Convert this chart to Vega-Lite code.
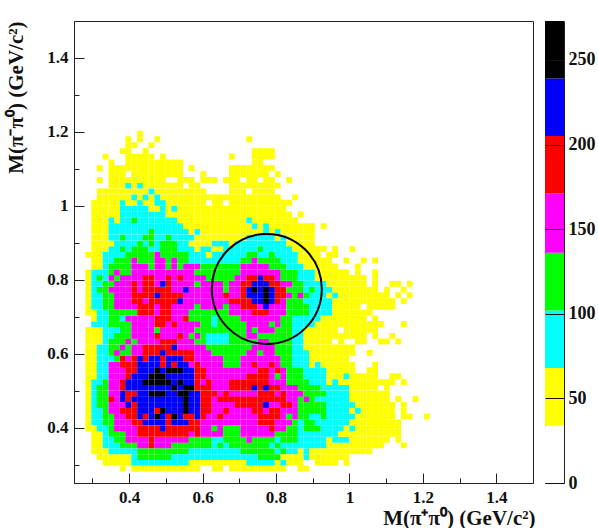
{"$schema":"https://vega.github.io/schema/vega-lite/v6.json","padding":{"left":4,"top":20,"right":0,"bottom":0},"background":"white","config":{"view":{"stroke":null},"axis":{"labelFont":"Liberation Serif","titleFont":"Liberation Serif","labelFontWeight":"bold","titleFontWeight":"bold","labelFontSize":17,"titleFontSize":21,"labelColor":"#111","titleColor":"#111","grid":false}},"spacing":8,"hconcat":[{"width":459,"height":462,"view":{"stroke":"#222","strokeWidth":1},"layer":[{"data":{"values":[
{"x":0.383,"y":0.289,"n":50},{"x":0.414,"y":0.289,"n":50},{"x":0.43,"y":0.289,"n":50},{"x":0.445,"y":0.289,"n":50},{"x":0.461,"y":0.289,"n":50},{"x":0.477,"y":0.289,"n":50},{"x":0.492,"y":0.289,"n":50},{"x":0.508,"y":0.289,"n":50},{"x":0.523,"y":0.289,"n":50},{"x":0.539,"y":0.289,"n":50},{"x":0.555,"y":0.289,"n":50},{"x":0.57,"y":0.289,"n":50},{"x":0.586,"y":0.289,"n":50},{"x":0.633,"y":0.289,"n":50},{"x":0.648,"y":0.289,"n":50},{"x":0.68,"y":0.289,"n":50},{"x":0.695,"y":0.289,"n":50},{"x":0.711,"y":0.289,"n":50},{"x":0.727,"y":0.289,"n":50},{"x":0.742,"y":0.289,"n":50},{"x":0.758,"y":0.289,"n":50},{"x":0.773,"y":0.289,"n":50},{"x":0.789,"y":0.289,"n":50},{"x":0.805,"y":0.289,"n":50},{"x":0.82,"y":0.289,"n":50},{"x":0.867,"y":0.289,"n":50},{"x":0.883,"y":0.289,"n":50},
{"x":0.336,"y":0.305,"n":50},{"x":0.352,"y":0.305,"n":50},{"x":0.367,"y":0.305,"n":50},{"x":0.383,"y":0.305,"n":50},{"x":0.398,"y":0.305,"n":50},{"x":0.414,"y":0.305,"n":85},{"x":0.43,"y":0.305,"n":85},{"x":0.445,"y":0.305,"n":85},{"x":0.461,"y":0.305,"n":85},{"x":0.477,"y":0.305,"n":85},{"x":0.492,"y":0.305,"n":85},{"x":0.508,"y":0.305,"n":85},{"x":0.523,"y":0.305,"n":85},{"x":0.539,"y":0.305,"n":85},{"x":0.555,"y":0.305,"n":85},{"x":0.57,"y":0.305,"n":50},{"x":0.586,"y":0.305,"n":50},{"x":0.602,"y":0.305,"n":50},{"x":0.617,"y":0.305,"n":50},{"x":0.633,"y":0.305,"n":50},{"x":0.648,"y":0.305,"n":50},{"x":0.664,"y":0.305,"n":50},{"x":0.68,"y":0.305,"n":50},{"x":0.695,"y":0.305,"n":50},{"x":0.711,"y":0.305,"n":50},{"x":0.727,"y":0.305,"n":85},{"x":0.742,"y":0.305,"n":85},{"x":0.758,"y":0.305,"n":85},{"x":0.773,"y":0.305,"n":85},{"x":0.789,"y":0.305,"n":85},{"x":0.805,"y":0.305,"n":50},{"x":0.82,"y":0.305,"n":85},{"x":0.836,"y":0.305,"n":50},{"x":0.852,"y":0.305,"n":50},{"x":0.867,"y":0.305,"n":50},{"x":0.914,"y":0.305,"n":50},{"x":0.93,"y":0.305,"n":50},{"x":0.945,"y":0.305,"n":50},{"x":0.961,"y":0.305,"n":50},{"x":0.992,"y":0.305,"n":50},
{"x":0.32,"y":0.32,"n":50},{"x":0.336,"y":0.32,"n":50},{"x":0.352,"y":0.32,"n":50},{"x":0.367,"y":0.32,"n":50},{"x":0.383,"y":0.32,"n":50},{"x":0.398,"y":0.32,"n":50},{"x":0.414,"y":0.32,"n":85},{"x":0.43,"y":0.32,"n":120},{"x":0.445,"y":0.32,"n":120},{"x":0.461,"y":0.32,"n":120},{"x":0.477,"y":0.32,"n":120},{"x":0.492,"y":0.32,"n":120},{"x":0.508,"y":0.32,"n":120},{"x":0.523,"y":0.32,"n":85},{"x":0.539,"y":0.32,"n":85},{"x":0.555,"y":0.32,"n":85},{"x":0.57,"y":0.32,"n":85},{"x":0.586,"y":0.32,"n":85},{"x":0.602,"y":0.32,"n":85},{"x":0.617,"y":0.32,"n":85},{"x":0.633,"y":0.32,"n":85},{"x":0.648,"y":0.32,"n":85},{"x":0.664,"y":0.32,"n":85},{"x":0.68,"y":0.32,"n":85},{"x":0.695,"y":0.32,"n":85},{"x":0.711,"y":0.32,"n":85},{"x":0.727,"y":0.32,"n":85},{"x":0.742,"y":0.32,"n":85},{"x":0.758,"y":0.32,"n":120},{"x":0.773,"y":0.32,"n":120},{"x":0.789,"y":0.32,"n":120},{"x":0.805,"y":0.32,"n":120},{"x":0.82,"y":0.32,"n":50},{"x":0.836,"y":0.32,"n":50},{"x":0.852,"y":0.32,"n":50},{"x":0.867,"y":0.32,"n":50},{"x":0.883,"y":0.32,"n":85},{"x":0.898,"y":0.32,"n":50},{"x":0.914,"y":0.32,"n":50},{"x":0.93,"y":0.32,"n":50},{"x":0.945,"y":0.32,"n":50},{"x":0.961,"y":0.32,"n":50},{"x":0.977,"y":0.32,"n":50},{"x":0.992,"y":0.32,"n":50},
{"x":0.305,"y":0.336,"n":50},{"x":0.32,"y":0.336,"n":50},{"x":0.336,"y":0.336,"n":50},{"x":0.352,"y":0.336,"n":85},{"x":0.367,"y":0.336,"n":85},{"x":0.383,"y":0.336,"n":85},{"x":0.398,"y":0.336,"n":85},{"x":0.414,"y":0.336,"n":85},{"x":0.43,"y":0.336,"n":120},{"x":0.445,"y":0.336,"n":120},{"x":0.461,"y":0.336,"n":120},{"x":0.477,"y":0.336,"n":120},{"x":0.492,"y":0.336,"n":120},{"x":0.508,"y":0.336,"n":120},{"x":0.523,"y":0.336,"n":120},{"x":0.539,"y":0.336,"n":120},{"x":0.555,"y":0.336,"n":120},{"x":0.57,"y":0.336,"n":85},{"x":0.586,"y":0.336,"n":85},{"x":0.602,"y":0.336,"n":85},{"x":0.617,"y":0.336,"n":85},{"x":0.633,"y":0.336,"n":85},{"x":0.648,"y":0.336,"n":85},{"x":0.664,"y":0.336,"n":85},{"x":0.68,"y":0.336,"n":85},{"x":0.695,"y":0.336,"n":85},{"x":0.711,"y":0.336,"n":120},{"x":0.727,"y":0.336,"n":120},{"x":0.742,"y":0.336,"n":120},{"x":0.758,"y":0.336,"n":120},{"x":0.773,"y":0.336,"n":120},{"x":0.789,"y":0.336,"n":120},{"x":0.805,"y":0.336,"n":85},{"x":0.82,"y":0.336,"n":120},{"x":0.836,"y":0.336,"n":85},{"x":0.852,"y":0.336,"n":85},{"x":0.867,"y":0.336,"n":50},{"x":0.883,"y":0.336,"n":85},{"x":0.898,"y":0.336,"n":50},{"x":0.914,"y":0.336,"n":50},{"x":0.93,"y":0.336,"n":50},{"x":0.945,"y":0.336,"n":50},{"x":0.961,"y":0.336,"n":50},{"x":0.977,"y":0.336,"n":50},{"x":0.992,"y":0.336,"n":50},{"x":1.008,"y":0.336,"n":50},{"x":1.023,"y":0.336,"n":50},{"x":1.039,"y":0.336,"n":50},{"x":1.055,"y":0.336,"n":50},
{"x":0.305,"y":0.352,"n":50},{"x":0.32,"y":0.352,"n":50},{"x":0.336,"y":0.352,"n":85},{"x":0.352,"y":0.352,"n":85},{"x":0.367,"y":0.352,"n":85},{"x":0.383,"y":0.352,"n":120},{"x":0.398,"y":0.352,"n":120},{"x":0.414,"y":0.352,"n":120},{"x":0.43,"y":0.352,"n":150},{"x":0.445,"y":0.352,"n":150},{"x":0.461,"y":0.352,"n":190},{"x":0.477,"y":0.352,"n":150},{"x":0.492,"y":0.352,"n":150},{"x":0.508,"y":0.352,"n":150},{"x":0.523,"y":0.352,"n":120},{"x":0.539,"y":0.352,"n":120},{"x":0.555,"y":0.352,"n":120},{"x":0.57,"y":0.352,"n":120},{"x":0.586,"y":0.352,"n":120},{"x":0.602,"y":0.352,"n":120},{"x":0.617,"y":0.352,"n":120},{"x":0.633,"y":0.352,"n":85},{"x":0.648,"y":0.352,"n":120},{"x":0.664,"y":0.352,"n":85},{"x":0.68,"y":0.352,"n":120},{"x":0.695,"y":0.352,"n":120},{"x":0.711,"y":0.352,"n":120},{"x":0.727,"y":0.352,"n":120},{"x":0.742,"y":0.352,"n":120},{"x":0.758,"y":0.352,"n":120},{"x":0.773,"y":0.352,"n":120},{"x":0.789,"y":0.352,"n":85},{"x":0.805,"y":0.352,"n":120},{"x":0.82,"y":0.352,"n":85},{"x":0.836,"y":0.352,"n":85},{"x":0.852,"y":0.352,"n":85},{"x":0.867,"y":0.352,"n":85},{"x":0.883,"y":0.352,"n":85},{"x":0.898,"y":0.352,"n":85},{"x":0.914,"y":0.352,"n":85},{"x":0.93,"y":0.352,"n":85},{"x":0.945,"y":0.352,"n":50},{"x":0.961,"y":0.352,"n":50},{"x":0.977,"y":0.352,"n":50},{"x":0.992,"y":0.352,"n":50},{"x":1.008,"y":0.352,"n":50},{"x":1.023,"y":0.352,"n":50},{"x":1.039,"y":0.352,"n":50},{"x":1.055,"y":0.352,"n":50},{"x":1.07,"y":0.352,"n":50},{"x":1.086,"y":0.352,"n":50},{"x":1.148,"y":0.352,"n":50},
{"x":0.305,"y":0.367,"n":50},{"x":0.32,"y":0.367,"n":50},{"x":0.336,"y":0.367,"n":85},{"x":0.352,"y":0.367,"n":85},{"x":0.367,"y":0.367,"n":120},{"x":0.383,"y":0.367,"n":120},{"x":0.398,"y":0.367,"n":150},{"x":0.414,"y":0.367,"n":150},{"x":0.43,"y":0.367,"n":150},{"x":0.445,"y":0.367,"n":150},{"x":0.461,"y":0.367,"n":190},{"x":0.477,"y":0.367,"n":150},{"x":0.492,"y":0.367,"n":150},{"x":0.508,"y":0.367,"n":150},{"x":0.523,"y":0.367,"n":150},{"x":0.539,"y":0.367,"n":150},{"x":0.555,"y":0.367,"n":150},{"x":0.57,"y":0.367,"n":120},{"x":0.586,"y":0.367,"n":120},{"x":0.602,"y":0.367,"n":120},{"x":0.617,"y":0.367,"n":120},{"x":0.633,"y":0.367,"n":85},{"x":0.648,"y":0.367,"n":85},{"x":0.664,"y":0.367,"n":120},{"x":0.68,"y":0.367,"n":120},{"x":0.695,"y":0.367,"n":120},{"x":0.711,"y":0.367,"n":120},{"x":0.727,"y":0.367,"n":150},{"x":0.742,"y":0.367,"n":120},{"x":0.758,"y":0.367,"n":120},{"x":0.773,"y":0.367,"n":120},{"x":0.789,"y":0.367,"n":120},{"x":0.805,"y":0.367,"n":85},{"x":0.82,"y":0.367,"n":120},{"x":0.836,"y":0.367,"n":120},{"x":0.852,"y":0.367,"n":120},{"x":0.867,"y":0.367,"n":85},{"x":0.883,"y":0.367,"n":85},{"x":0.898,"y":0.367,"n":85},{"x":0.914,"y":0.367,"n":85},{"x":0.93,"y":0.367,"n":85},{"x":0.945,"y":0.367,"n":50},{"x":0.961,"y":0.367,"n":85},{"x":0.977,"y":0.367,"n":85},{"x":0.992,"y":0.367,"n":85},{"x":1.008,"y":0.367,"n":50},{"x":1.023,"y":0.367,"n":50},{"x":1.039,"y":0.367,"n":50},{"x":1.055,"y":0.367,"n":50},{"x":1.07,"y":0.367,"n":50},{"x":1.086,"y":0.367,"n":50},{"x":1.102,"y":0.367,"n":50},{"x":1.133,"y":0.367,"n":50},
{"x":0.305,"y":0.383,"n":50},{"x":0.32,"y":0.383,"n":50},{"x":0.336,"y":0.383,"n":85},{"x":0.352,"y":0.383,"n":120},{"x":0.367,"y":0.383,"n":120},{"x":0.383,"y":0.383,"n":120},{"x":0.398,"y":0.383,"n":150},{"x":0.414,"y":0.383,"n":150},{"x":0.43,"y":0.383,"n":190},{"x":0.445,"y":0.383,"n":190},{"x":0.461,"y":0.383,"n":190},{"x":0.477,"y":0.383,"n":190},{"x":0.492,"y":0.383,"n":190},{"x":0.508,"y":0.383,"n":190},{"x":0.523,"y":0.383,"n":190},{"x":0.539,"y":0.383,"n":190},{"x":0.555,"y":0.383,"n":190},{"x":0.57,"y":0.383,"n":150},{"x":0.586,"y":0.383,"n":190},{"x":0.602,"y":0.383,"n":150},{"x":0.617,"y":0.383,"n":150},{"x":0.633,"y":0.383,"n":150},{"x":0.648,"y":0.383,"n":150},{"x":0.664,"y":0.383,"n":120},{"x":0.68,"y":0.383,"n":120},{"x":0.695,"y":0.383,"n":120},{"x":0.711,"y":0.383,"n":150},{"x":0.727,"y":0.383,"n":150},{"x":0.742,"y":0.383,"n":150},{"x":0.758,"y":0.383,"n":150},{"x":0.773,"y":0.383,"n":150},{"x":0.789,"y":0.383,"n":150},{"x":0.805,"y":0.383,"n":120},{"x":0.82,"y":0.383,"n":120},{"x":0.836,"y":0.383,"n":120},{"x":0.852,"y":0.383,"n":120},{"x":0.867,"y":0.383,"n":85},{"x":0.883,"y":0.383,"n":85},{"x":0.898,"y":0.383,"n":85},{"x":0.914,"y":0.383,"n":85},{"x":0.93,"y":0.383,"n":85},{"x":0.945,"y":0.383,"n":85},{"x":0.961,"y":0.383,"n":85},{"x":0.977,"y":0.383,"n":50},{"x":0.992,"y":0.383,"n":50},{"x":1.008,"y":0.383,"n":50},{"x":1.023,"y":0.383,"n":50},{"x":1.039,"y":0.383,"n":50},{"x":1.055,"y":0.383,"n":50},{"x":1.07,"y":0.383,"n":50},{"x":1.086,"y":0.383,"n":50},{"x":1.102,"y":0.383,"n":50},{"x":1.117,"y":0.383,"n":50},{"x":1.133,"y":0.383,"n":50},
{"x":0.289,"y":0.398,"n":50},{"x":0.305,"y":0.398,"n":50},{"x":0.32,"y":0.398,"n":85},{"x":0.336,"y":0.398,"n":85},{"x":0.352,"y":0.398,"n":120},{"x":0.367,"y":0.398,"n":150},{"x":0.383,"y":0.398,"n":150},{"x":0.398,"y":0.398,"n":150},{"x":0.414,"y":0.398,"n":150},{"x":0.43,"y":0.398,"n":190},{"x":0.445,"y":0.398,"n":190},{"x":0.461,"y":0.398,"n":190},{"x":0.477,"y":0.398,"n":190},{"x":0.492,"y":0.398,"n":220},{"x":0.508,"y":0.398,"n":190},{"x":0.523,"y":0.398,"n":190},{"x":0.539,"y":0.398,"n":190},{"x":0.555,"y":0.398,"n":190},{"x":0.57,"y":0.398,"n":190},{"x":0.586,"y":0.398,"n":190},{"x":0.602,"y":0.398,"n":150},{"x":0.617,"y":0.398,"n":150},{"x":0.633,"y":0.398,"n":120},{"x":0.648,"y":0.398,"n":150},{"x":0.664,"y":0.398,"n":120},{"x":0.68,"y":0.398,"n":120},{"x":0.695,"y":0.398,"n":120},{"x":0.711,"y":0.398,"n":150},{"x":0.727,"y":0.398,"n":150},{"x":0.742,"y":0.398,"n":150},{"x":0.758,"y":0.398,"n":150},{"x":0.773,"y":0.398,"n":150},{"x":0.789,"y":0.398,"n":190},{"x":0.805,"y":0.398,"n":150},{"x":0.82,"y":0.398,"n":150},{"x":0.836,"y":0.398,"n":120},{"x":0.852,"y":0.398,"n":120},{"x":0.867,"y":0.398,"n":85},{"x":0.883,"y":0.398,"n":120},{"x":0.898,"y":0.398,"n":120},{"x":0.914,"y":0.398,"n":120},{"x":0.93,"y":0.398,"n":85},{"x":0.945,"y":0.398,"n":85},{"x":0.961,"y":0.398,"n":85},{"x":0.977,"y":0.398,"n":85},{"x":0.992,"y":0.398,"n":50},{"x":1.008,"y":0.398,"n":85},{"x":1.023,"y":0.398,"n":50},{"x":1.039,"y":0.398,"n":50},{"x":1.055,"y":0.398,"n":50},{"x":1.07,"y":0.398,"n":50},{"x":1.086,"y":0.398,"n":50},{"x":1.102,"y":0.398,"n":50},{"x":1.117,"y":0.398,"n":50},{"x":1.133,"y":0.398,"n":50},
{"x":0.289,"y":0.414,"n":50},{"x":0.305,"y":0.414,"n":85},{"x":0.32,"y":0.414,"n":85},{"x":0.336,"y":0.414,"n":120},{"x":0.352,"y":0.414,"n":120},{"x":0.367,"y":0.414,"n":150},{"x":0.383,"y":0.414,"n":150},{"x":0.398,"y":0.414,"n":150},{"x":0.414,"y":0.414,"n":190},{"x":0.43,"y":0.414,"n":190},{"x":0.445,"y":0.414,"n":220},{"x":0.461,"y":0.414,"n":220},{"x":0.477,"y":0.414,"n":220},{"x":0.492,"y":0.414,"n":220},{"x":0.508,"y":0.414,"n":190},{"x":0.523,"y":0.414,"n":220},{"x":0.539,"y":0.414,"n":220},{"x":0.555,"y":0.414,"n":220},{"x":0.57,"y":0.414,"n":190},{"x":0.586,"y":0.414,"n":190},{"x":0.602,"y":0.414,"n":150},{"x":0.617,"y":0.414,"n":150},{"x":0.633,"y":0.414,"n":150},{"x":0.648,"y":0.414,"n":150},{"x":0.664,"y":0.414,"n":150},{"x":0.68,"y":0.414,"n":150},{"x":0.695,"y":0.414,"n":150},{"x":0.711,"y":0.414,"n":150},{"x":0.727,"y":0.414,"n":150},{"x":0.742,"y":0.414,"n":150},{"x":0.758,"y":0.414,"n":190},{"x":0.773,"y":0.414,"n":190},{"x":0.789,"y":0.414,"n":190},{"x":0.805,"y":0.414,"n":150},{"x":0.82,"y":0.414,"n":150},{"x":0.836,"y":0.414,"n":150},{"x":0.852,"y":0.414,"n":120},{"x":0.867,"y":0.414,"n":85},{"x":0.883,"y":0.414,"n":120},{"x":0.898,"y":0.414,"n":120},{"x":0.914,"y":0.414,"n":85},{"x":0.93,"y":0.414,"n":85},{"x":0.945,"y":0.414,"n":85},{"x":0.961,"y":0.414,"n":85},{"x":0.977,"y":0.414,"n":85},{"x":0.992,"y":0.414,"n":85},{"x":1.008,"y":0.414,"n":50},{"x":1.023,"y":0.414,"n":50},{"x":1.039,"y":0.414,"n":50},{"x":1.055,"y":0.414,"n":50},{"x":1.07,"y":0.414,"n":50},{"x":1.086,"y":0.414,"n":50},{"x":1.102,"y":0.414,"n":50},{"x":1.117,"y":0.414,"n":50},{"x":1.133,"y":0.414,"n":50},
{"x":0.289,"y":0.43,"n":50},{"x":0.305,"y":0.43,"n":85},{"x":0.32,"y":0.43,"n":85},{"x":0.336,"y":0.43,"n":120},{"x":0.352,"y":0.43,"n":120},{"x":0.367,"y":0.43,"n":150},{"x":0.383,"y":0.43,"n":150},{"x":0.398,"y":0.43,"n":190},{"x":0.414,"y":0.43,"n":190},{"x":0.43,"y":0.43,"n":220},{"x":0.445,"y":0.43,"n":190},{"x":0.461,"y":0.43,"n":220},{"x":0.477,"y":0.43,"n":255},{"x":0.492,"y":0.43,"n":220},{"x":0.508,"y":0.43,"n":190},{"x":0.523,"y":0.43,"n":255},{"x":0.539,"y":0.43,"n":220},{"x":0.555,"y":0.43,"n":190},{"x":0.57,"y":0.43,"n":190},{"x":0.586,"y":0.43,"n":220},{"x":0.602,"y":0.43,"n":190},{"x":0.617,"y":0.43,"n":150},{"x":0.633,"y":0.43,"n":150},{"x":0.648,"y":0.43,"n":190},{"x":0.664,"y":0.43,"n":150},{"x":0.68,"y":0.43,"n":150},{"x":0.695,"y":0.43,"n":150},{"x":0.711,"y":0.43,"n":150},{"x":0.727,"y":0.43,"n":150},{"x":0.742,"y":0.43,"n":150},{"x":0.758,"y":0.43,"n":190},{"x":0.773,"y":0.43,"n":190},{"x":0.789,"y":0.43,"n":190},{"x":0.805,"y":0.43,"n":190},{"x":0.82,"y":0.43,"n":150},{"x":0.836,"y":0.43,"n":120},{"x":0.852,"y":0.43,"n":150},{"x":0.867,"y":0.43,"n":120},{"x":0.883,"y":0.43,"n":120},{"x":0.898,"y":0.43,"n":85},{"x":0.914,"y":0.43,"n":85},{"x":0.93,"y":0.43,"n":120},{"x":0.945,"y":0.43,"n":85},{"x":0.961,"y":0.43,"n":85},{"x":0.977,"y":0.43,"n":85},{"x":0.992,"y":0.43,"n":85},{"x":1.008,"y":0.43,"n":85},{"x":1.023,"y":0.43,"n":50},{"x":1.039,"y":0.43,"n":50},{"x":1.055,"y":0.43,"n":50},{"x":1.07,"y":0.43,"n":50},{"x":1.086,"y":0.43,"n":50},{"x":1.102,"y":0.43,"n":50},{"x":1.117,"y":0.43,"n":50},{"x":1.148,"y":0.43,"n":50},{"x":1.164,"y":0.43,"n":50},{"x":1.211,"y":0.43,"n":50},
{"x":0.289,"y":0.445,"n":50},{"x":0.305,"y":0.445,"n":85},{"x":0.32,"y":0.445,"n":85},{"x":0.336,"y":0.445,"n":120},{"x":0.352,"y":0.445,"n":150},{"x":0.367,"y":0.445,"n":150},{"x":0.383,"y":0.445,"n":190},{"x":0.398,"y":0.445,"n":190},{"x":0.414,"y":0.445,"n":190},{"x":0.43,"y":0.445,"n":220},{"x":0.445,"y":0.445,"n":220},{"x":0.461,"y":0.445,"n":220},{"x":0.477,"y":0.445,"n":190},{"x":0.492,"y":0.445,"n":255},{"x":0.508,"y":0.445,"n":220},{"x":0.523,"y":0.445,"n":220},{"x":0.539,"y":0.445,"n":220},{"x":0.555,"y":0.445,"n":255},{"x":0.57,"y":0.445,"n":220},{"x":0.586,"y":0.445,"n":220},{"x":0.602,"y":0.445,"n":190},{"x":0.617,"y":0.445,"n":190},{"x":0.633,"y":0.445,"n":150},{"x":0.648,"y":0.445,"n":150},{"x":0.664,"y":0.445,"n":190},{"x":0.68,"y":0.445,"n":150},{"x":0.695,"y":0.445,"n":150},{"x":0.711,"y":0.445,"n":150},{"x":0.727,"y":0.445,"n":150},{"x":0.742,"y":0.445,"n":190},{"x":0.758,"y":0.445,"n":190},{"x":0.773,"y":0.445,"n":150},{"x":0.789,"y":0.445,"n":190},{"x":0.805,"y":0.445,"n":190},{"x":0.82,"y":0.445,"n":150},{"x":0.836,"y":0.445,"n":150},{"x":0.852,"y":0.445,"n":150},{"x":0.867,"y":0.445,"n":120},{"x":0.883,"y":0.445,"n":120},{"x":0.898,"y":0.445,"n":120},{"x":0.914,"y":0.445,"n":120},{"x":0.93,"y":0.445,"n":120},{"x":0.945,"y":0.445,"n":85},{"x":0.961,"y":0.445,"n":85},{"x":0.977,"y":0.445,"n":85},{"x":0.992,"y":0.445,"n":85},{"x":1.008,"y":0.445,"n":50},{"x":1.023,"y":0.445,"n":85},{"x":1.039,"y":0.445,"n":50},{"x":1.055,"y":0.445,"n":50},{"x":1.07,"y":0.445,"n":50},{"x":1.086,"y":0.445,"n":50},{"x":1.102,"y":0.445,"n":50},{"x":1.117,"y":0.445,"n":50},{"x":1.148,"y":0.445,"n":50},
{"x":0.289,"y":0.461,"n":50},{"x":0.305,"y":0.461,"n":85},{"x":0.32,"y":0.461,"n":120},{"x":0.336,"y":0.461,"n":120},{"x":0.352,"y":0.461,"n":150},{"x":0.367,"y":0.461,"n":150},{"x":0.383,"y":0.461,"n":150},{"x":0.398,"y":0.461,"n":220},{"x":0.414,"y":0.461,"n":190},{"x":0.43,"y":0.461,"n":220},{"x":0.445,"y":0.461,"n":220},{"x":0.461,"y":0.461,"n":220},{"x":0.477,"y":0.461,"n":220},{"x":0.492,"y":0.461,"n":220},{"x":0.508,"y":0.461,"n":220},{"x":0.523,"y":0.461,"n":220},{"x":0.539,"y":0.461,"n":220},{"x":0.555,"y":0.461,"n":255},{"x":0.57,"y":0.461,"n":220},{"x":0.586,"y":0.461,"n":220},{"x":0.602,"y":0.461,"n":190},{"x":0.617,"y":0.461,"n":190},{"x":0.633,"y":0.461,"n":150},{"x":0.648,"y":0.461,"n":150},{"x":0.664,"y":0.461,"n":150},{"x":0.68,"y":0.461,"n":150},{"x":0.695,"y":0.461,"n":190},{"x":0.711,"y":0.461,"n":190},{"x":0.727,"y":0.461,"n":190},{"x":0.742,"y":0.461,"n":190},{"x":0.758,"y":0.461,"n":190},{"x":0.773,"y":0.461,"n":220},{"x":0.789,"y":0.461,"n":150},{"x":0.805,"y":0.461,"n":150},{"x":0.82,"y":0.461,"n":190},{"x":0.836,"y":0.461,"n":190},{"x":0.852,"y":0.461,"n":150},{"x":0.867,"y":0.461,"n":120},{"x":0.883,"y":0.461,"n":120},{"x":0.898,"y":0.461,"n":120},{"x":0.914,"y":0.461,"n":120},{"x":0.93,"y":0.461,"n":120},{"x":0.945,"y":0.461,"n":85},{"x":0.961,"y":0.461,"n":85},{"x":0.977,"y":0.461,"n":85},{"x":0.992,"y":0.461,"n":85},{"x":1.008,"y":0.461,"n":85},{"x":1.023,"y":0.461,"n":50},{"x":1.039,"y":0.461,"n":50},{"x":1.055,"y":0.461,"n":50},{"x":1.07,"y":0.461,"n":50},{"x":1.086,"y":0.461,"n":50},{"x":1.102,"y":0.461,"n":50},{"x":1.117,"y":0.461,"n":50},{"x":1.148,"y":0.461,"n":50},
{"x":0.289,"y":0.477,"n":50},{"x":0.305,"y":0.477,"n":85},{"x":0.32,"y":0.477,"n":120},{"x":0.336,"y":0.477,"n":120},{"x":0.352,"y":0.477,"n":190},{"x":0.367,"y":0.477,"n":150},{"x":0.383,"y":0.477,"n":220},{"x":0.398,"y":0.477,"n":190},{"x":0.414,"y":0.477,"n":220},{"x":0.43,"y":0.477,"n":220},{"x":0.445,"y":0.477,"n":220},{"x":0.461,"y":0.477,"n":220},{"x":0.477,"y":0.477,"n":220},{"x":0.492,"y":0.477,"n":220},{"x":0.508,"y":0.477,"n":220},{"x":0.523,"y":0.477,"n":220},{"x":0.539,"y":0.477,"n":220},{"x":0.555,"y":0.477,"n":255},{"x":0.57,"y":0.477,"n":220},{"x":0.586,"y":0.477,"n":220},{"x":0.602,"y":0.477,"n":190},{"x":0.617,"y":0.477,"n":190},{"x":0.633,"y":0.477,"n":150},{"x":0.648,"y":0.477,"n":190},{"x":0.664,"y":0.477,"n":190},{"x":0.68,"y":0.477,"n":190},{"x":0.695,"y":0.477,"n":190},{"x":0.711,"y":0.477,"n":190},{"x":0.727,"y":0.477,"n":190},{"x":0.742,"y":0.477,"n":190},{"x":0.758,"y":0.477,"n":190},{"x":0.773,"y":0.477,"n":190},{"x":0.789,"y":0.477,"n":190},{"x":0.805,"y":0.477,"n":190},{"x":0.82,"y":0.477,"n":190},{"x":0.836,"y":0.477,"n":150},{"x":0.852,"y":0.477,"n":150},{"x":0.867,"y":0.477,"n":120},{"x":0.883,"y":0.477,"n":150},{"x":0.898,"y":0.477,"n":120},{"x":0.914,"y":0.477,"n":85},{"x":0.93,"y":0.477,"n":85},{"x":0.945,"y":0.477,"n":85},{"x":0.961,"y":0.477,"n":85},{"x":0.977,"y":0.477,"n":85},{"x":0.992,"y":0.477,"n":85},{"x":1.008,"y":0.477,"n":50},{"x":1.023,"y":0.477,"n":50},{"x":1.039,"y":0.477,"n":50},{"x":1.055,"y":0.477,"n":50},{"x":1.07,"y":0.477,"n":50},{"x":1.086,"y":0.477,"n":50},{"x":1.102,"y":0.477,"n":50},{"x":1.133,"y":0.477,"n":50},{"x":1.18,"y":0.477,"n":50},
{"x":0.289,"y":0.492,"n":50},{"x":0.305,"y":0.492,"n":85},{"x":0.32,"y":0.492,"n":120},{"x":0.336,"y":0.492,"n":120},{"x":0.352,"y":0.492,"n":150},{"x":0.367,"y":0.492,"n":150},{"x":0.383,"y":0.492,"n":220},{"x":0.398,"y":0.492,"n":190},{"x":0.414,"y":0.492,"n":190},{"x":0.43,"y":0.492,"n":220},{"x":0.445,"y":0.492,"n":220},{"x":0.461,"y":0.492,"n":255},{"x":0.477,"y":0.492,"n":255},{"x":0.492,"y":0.492,"n":255},{"x":0.508,"y":0.492,"n":220},{"x":0.523,"y":0.492,"n":220},{"x":0.539,"y":0.492,"n":255},{"x":0.555,"y":0.492,"n":255},{"x":0.57,"y":0.492,"n":220},{"x":0.586,"y":0.492,"n":220},{"x":0.602,"y":0.492,"n":190},{"x":0.617,"y":0.492,"n":190},{"x":0.633,"y":0.492,"n":190},{"x":0.648,"y":0.492,"n":150},{"x":0.664,"y":0.492,"n":190},{"x":0.68,"y":0.492,"n":150},{"x":0.695,"y":0.492,"n":150},{"x":0.711,"y":0.492,"n":150},{"x":0.727,"y":0.492,"n":150},{"x":0.742,"y":0.492,"n":150},{"x":0.758,"y":0.492,"n":190},{"x":0.773,"y":0.492,"n":190},{"x":0.789,"y":0.492,"n":190},{"x":0.805,"y":0.492,"n":150},{"x":0.82,"y":0.492,"n":190},{"x":0.836,"y":0.492,"n":150},{"x":0.852,"y":0.492,"n":150},{"x":0.867,"y":0.492,"n":150},{"x":0.883,"y":0.492,"n":120},{"x":0.898,"y":0.492,"n":120},{"x":0.914,"y":0.492,"n":120},{"x":0.93,"y":0.492,"n":120},{"x":0.945,"y":0.492,"n":85},{"x":0.961,"y":0.492,"n":85},{"x":0.977,"y":0.492,"n":85},{"x":0.992,"y":0.492,"n":85},{"x":1.008,"y":0.492,"n":50},{"x":1.023,"y":0.492,"n":50},{"x":1.039,"y":0.492,"n":50},{"x":1.055,"y":0.492,"n":50},{"x":1.07,"y":0.492,"n":50},{"x":1.086,"y":0.492,"n":50},{"x":1.102,"y":0.492,"n":50},
{"x":0.289,"y":0.508,"n":50},{"x":0.305,"y":0.508,"n":85},{"x":0.32,"y":0.508,"n":120},{"x":0.336,"y":0.508,"n":120},{"x":0.352,"y":0.508,"n":150},{"x":0.367,"y":0.508,"n":150},{"x":0.383,"y":0.508,"n":190},{"x":0.398,"y":0.508,"n":220},{"x":0.414,"y":0.508,"n":220},{"x":0.43,"y":0.508,"n":220},{"x":0.445,"y":0.508,"n":220},{"x":0.461,"y":0.508,"n":220},{"x":0.477,"y":0.508,"n":220},{"x":0.492,"y":0.508,"n":220},{"x":0.508,"y":0.508,"n":220},{"x":0.523,"y":0.508,"n":255},{"x":0.539,"y":0.508,"n":220},{"x":0.555,"y":0.508,"n":255},{"x":0.57,"y":0.508,"n":255},{"x":0.586,"y":0.508,"n":190},{"x":0.602,"y":0.508,"n":190},{"x":0.617,"y":0.508,"n":190},{"x":0.633,"y":0.508,"n":150},{"x":0.648,"y":0.508,"n":150},{"x":0.664,"y":0.508,"n":150},{"x":0.68,"y":0.508,"n":190},{"x":0.695,"y":0.508,"n":190},{"x":0.711,"y":0.508,"n":190},{"x":0.727,"y":0.508,"n":190},{"x":0.742,"y":0.508,"n":220},{"x":0.758,"y":0.508,"n":190},{"x":0.773,"y":0.508,"n":220},{"x":0.789,"y":0.508,"n":190},{"x":0.805,"y":0.508,"n":190},{"x":0.82,"y":0.508,"n":150},{"x":0.836,"y":0.508,"n":150},{"x":0.852,"y":0.508,"n":150},{"x":0.867,"y":0.508,"n":120},{"x":0.883,"y":0.508,"n":120},{"x":0.898,"y":0.508,"n":120},{"x":0.914,"y":0.508,"n":120},{"x":0.93,"y":0.508,"n":85},{"x":0.945,"y":0.508,"n":85},{"x":0.961,"y":0.508,"n":85},{"x":0.977,"y":0.508,"n":85},{"x":0.992,"y":0.508,"n":85},{"x":1.008,"y":0.508,"n":50},{"x":1.023,"y":0.508,"n":50},{"x":1.039,"y":0.508,"n":50},{"x":1.055,"y":0.508,"n":50},{"x":1.07,"y":0.508,"n":50},{"x":1.102,"y":0.508,"n":50},
{"x":0.289,"y":0.523,"n":50},{"x":0.305,"y":0.523,"n":85},{"x":0.32,"y":0.523,"n":85},{"x":0.336,"y":0.523,"n":120},{"x":0.352,"y":0.523,"n":150},{"x":0.367,"y":0.523,"n":150},{"x":0.383,"y":0.523,"n":190},{"x":0.398,"y":0.523,"n":220},{"x":0.414,"y":0.523,"n":220},{"x":0.43,"y":0.523,"n":220},{"x":0.445,"y":0.523,"n":255},{"x":0.461,"y":0.523,"n":255},{"x":0.477,"y":0.523,"n":255},{"x":0.492,"y":0.523,"n":255},{"x":0.508,"y":0.523,"n":255},{"x":0.523,"y":0.523,"n":220},{"x":0.539,"y":0.523,"n":255},{"x":0.555,"y":0.523,"n":220},{"x":0.57,"y":0.523,"n":220},{"x":0.586,"y":0.523,"n":190},{"x":0.602,"y":0.523,"n":150},{"x":0.617,"y":0.523,"n":190},{"x":0.633,"y":0.523,"n":150},{"x":0.648,"y":0.523,"n":150},{"x":0.664,"y":0.523,"n":150},{"x":0.68,"y":0.523,"n":190},{"x":0.695,"y":0.523,"n":190},{"x":0.711,"y":0.523,"n":190},{"x":0.727,"y":0.523,"n":190},{"x":0.742,"y":0.523,"n":190},{"x":0.758,"y":0.523,"n":190},{"x":0.773,"y":0.523,"n":190},{"x":0.789,"y":0.523,"n":150},{"x":0.805,"y":0.523,"n":150},{"x":0.82,"y":0.523,"n":150},{"x":0.836,"y":0.523,"n":120},{"x":0.852,"y":0.523,"n":120},{"x":0.867,"y":0.523,"n":120},{"x":0.883,"y":0.523,"n":120},{"x":0.898,"y":0.523,"n":85},{"x":0.914,"y":0.523,"n":85},{"x":0.93,"y":0.523,"n":85},{"x":0.945,"y":0.523,"n":50},{"x":0.961,"y":0.523,"n":85},{"x":0.977,"y":0.523,"n":50},{"x":0.992,"y":0.523,"n":50},{"x":1.008,"y":0.523,"n":50},{"x":1.023,"y":0.523,"n":50},{"x":1.039,"y":0.523,"n":50},{"x":1.055,"y":0.523,"n":50},{"x":1.07,"y":0.523,"n":50},{"x":1.086,"y":0.523,"n":50},{"x":1.102,"y":0.523,"n":50},{"x":1.117,"y":0.523,"n":50},{"x":1.148,"y":0.523,"n":50},
{"x":0.289,"y":0.539,"n":50},{"x":0.305,"y":0.539,"n":50},{"x":0.32,"y":0.539,"n":85},{"x":0.336,"y":0.539,"n":85},{"x":0.352,"y":0.539,"n":150},{"x":0.367,"y":0.539,"n":150},{"x":0.383,"y":0.539,"n":150},{"x":0.398,"y":0.539,"n":190},{"x":0.414,"y":0.539,"n":220},{"x":0.43,"y":0.539,"n":220},{"x":0.445,"y":0.539,"n":220},{"x":0.461,"y":0.539,"n":255},{"x":0.477,"y":0.539,"n":255},{"x":0.492,"y":0.539,"n":255},{"x":0.508,"y":0.539,"n":220},{"x":0.523,"y":0.539,"n":220},{"x":0.539,"y":0.539,"n":220},{"x":0.555,"y":0.539,"n":220},{"x":0.57,"y":0.539,"n":220},{"x":0.586,"y":0.539,"n":190},{"x":0.602,"y":0.539,"n":190},{"x":0.617,"y":0.539,"n":150},{"x":0.633,"y":0.539,"n":150},{"x":0.648,"y":0.539,"n":150},{"x":0.664,"y":0.539,"n":150},{"x":0.68,"y":0.539,"n":150},{"x":0.695,"y":0.539,"n":150},{"x":0.711,"y":0.539,"n":150},{"x":0.727,"y":0.539,"n":190},{"x":0.742,"y":0.539,"n":190},{"x":0.758,"y":0.539,"n":190},{"x":0.773,"y":0.539,"n":190},{"x":0.789,"y":0.539,"n":150},{"x":0.805,"y":0.539,"n":120},{"x":0.82,"y":0.539,"n":150},{"x":0.836,"y":0.539,"n":120},{"x":0.852,"y":0.539,"n":120},{"x":0.867,"y":0.539,"n":120},{"x":0.883,"y":0.539,"n":85},{"x":0.898,"y":0.539,"n":85},{"x":0.914,"y":0.539,"n":85},{"x":0.93,"y":0.539,"n":85},{"x":0.945,"y":0.539,"n":50},{"x":0.961,"y":0.539,"n":50},{"x":0.977,"y":0.539,"n":50},{"x":0.992,"y":0.539,"n":85},{"x":1.008,"y":0.539,"n":50},{"x":1.023,"y":0.539,"n":50},{"x":1.039,"y":0.539,"n":50},{"x":1.055,"y":0.539,"n":50},{"x":1.07,"y":0.539,"n":50},{"x":1.117,"y":0.539,"n":50},{"x":1.133,"y":0.539,"n":50},
{"x":0.289,"y":0.555,"n":50},{"x":0.305,"y":0.555,"n":50},{"x":0.32,"y":0.555,"n":85},{"x":0.336,"y":0.555,"n":85},{"x":0.352,"y":0.555,"n":150},{"x":0.367,"y":0.555,"n":150},{"x":0.383,"y":0.555,"n":150},{"x":0.398,"y":0.555,"n":190},{"x":0.414,"y":0.555,"n":190},{"x":0.43,"y":0.555,"n":220},{"x":0.445,"y":0.555,"n":220},{"x":0.461,"y":0.555,"n":220},{"x":0.477,"y":0.555,"n":255},{"x":0.492,"y":0.555,"n":220},{"x":0.508,"y":0.555,"n":255},{"x":0.523,"y":0.555,"n":255},{"x":0.539,"y":0.555,"n":255},{"x":0.555,"y":0.555,"n":220},{"x":0.57,"y":0.555,"n":220},{"x":0.586,"y":0.555,"n":190},{"x":0.602,"y":0.555,"n":190},{"x":0.617,"y":0.555,"n":150},{"x":0.633,"y":0.555,"n":150},{"x":0.648,"y":0.555,"n":150},{"x":0.664,"y":0.555,"n":150},{"x":0.68,"y":0.555,"n":150},{"x":0.695,"y":0.555,"n":150},{"x":0.711,"y":0.555,"n":150},{"x":0.727,"y":0.555,"n":150},{"x":0.742,"y":0.555,"n":150},{"x":0.758,"y":0.555,"n":190},{"x":0.773,"y":0.555,"n":190},{"x":0.789,"y":0.555,"n":150},{"x":0.805,"y":0.555,"n":190},{"x":0.82,"y":0.555,"n":150},{"x":0.836,"y":0.555,"n":120},{"x":0.852,"y":0.555,"n":120},{"x":0.867,"y":0.555,"n":120},{"x":0.883,"y":0.555,"n":85},{"x":0.898,"y":0.555,"n":85},{"x":0.914,"y":0.555,"n":85},{"x":0.93,"y":0.555,"n":85},{"x":0.945,"y":0.555,"n":50},{"x":0.961,"y":0.555,"n":50},{"x":0.977,"y":0.555,"n":50},{"x":0.992,"y":0.555,"n":50},{"x":1.008,"y":0.555,"n":50},{"x":1.055,"y":0.555,"n":50},{"x":1.07,"y":0.555,"n":50},
{"x":0.289,"y":0.57,"n":50},{"x":0.305,"y":0.57,"n":50},{"x":0.32,"y":0.57,"n":85},{"x":0.336,"y":0.57,"n":85},{"x":0.352,"y":0.57,"n":150},{"x":0.367,"y":0.57,"n":150},{"x":0.383,"y":0.57,"n":190},{"x":0.398,"y":0.57,"n":190},{"x":0.414,"y":0.57,"n":190},{"x":0.43,"y":0.57,"n":220},{"x":0.445,"y":0.57,"n":220},{"x":0.461,"y":0.57,"n":220},{"x":0.477,"y":0.57,"n":220},{"x":0.492,"y":0.57,"n":190},{"x":0.508,"y":0.57,"n":220},{"x":0.523,"y":0.57,"n":190},{"x":0.539,"y":0.57,"n":220},{"x":0.555,"y":0.57,"n":220},{"x":0.57,"y":0.57,"n":150},{"x":0.586,"y":0.57,"n":190},{"x":0.602,"y":0.57,"n":150},{"x":0.617,"y":0.57,"n":150},{"x":0.633,"y":0.57,"n":150},{"x":0.648,"y":0.57,"n":150},{"x":0.664,"y":0.57,"n":120},{"x":0.68,"y":0.57,"n":120},{"x":0.695,"y":0.57,"n":120},{"x":0.711,"y":0.57,"n":150},{"x":0.727,"y":0.57,"n":150},{"x":0.742,"y":0.57,"n":190},{"x":0.758,"y":0.57,"n":150},{"x":0.773,"y":0.57,"n":150},{"x":0.789,"y":0.57,"n":190},{"x":0.805,"y":0.57,"n":150},{"x":0.82,"y":0.57,"n":120},{"x":0.836,"y":0.57,"n":120},{"x":0.852,"y":0.57,"n":85},{"x":0.867,"y":0.57,"n":85},{"x":0.883,"y":0.57,"n":85},{"x":0.898,"y":0.57,"n":50},{"x":0.914,"y":0.57,"n":85},{"x":0.93,"y":0.57,"n":50},{"x":0.945,"y":0.57,"n":50},{"x":0.961,"y":0.57,"n":50},{"x":0.977,"y":0.57,"n":50},{"x":0.992,"y":0.57,"n":50},{"x":1.008,"y":0.57,"n":50},{"x":1.07,"y":0.57,"n":50},
{"x":0.289,"y":0.586,"n":50},{"x":0.305,"y":0.586,"n":50},{"x":0.32,"y":0.586,"n":85},{"x":0.336,"y":0.586,"n":85},{"x":0.352,"y":0.586,"n":85},{"x":0.367,"y":0.586,"n":120},{"x":0.383,"y":0.586,"n":190},{"x":0.398,"y":0.586,"n":150},{"x":0.414,"y":0.586,"n":190},{"x":0.43,"y":0.586,"n":220},{"x":0.445,"y":0.586,"n":190},{"x":0.461,"y":0.586,"n":220},{"x":0.477,"y":0.586,"n":220},{"x":0.492,"y":0.586,"n":190},{"x":0.508,"y":0.586,"n":220},{"x":0.523,"y":0.586,"n":220},{"x":0.539,"y":0.586,"n":220},{"x":0.555,"y":0.586,"n":190},{"x":0.57,"y":0.586,"n":190},{"x":0.586,"y":0.586,"n":150},{"x":0.602,"y":0.586,"n":150},{"x":0.617,"y":0.586,"n":150},{"x":0.633,"y":0.586,"n":150},{"x":0.648,"y":0.586,"n":150},{"x":0.664,"y":0.586,"n":120},{"x":0.68,"y":0.586,"n":120},{"x":0.695,"y":0.586,"n":120},{"x":0.711,"y":0.586,"n":150},{"x":0.727,"y":0.586,"n":150},{"x":0.742,"y":0.586,"n":150},{"x":0.758,"y":0.586,"n":150},{"x":0.773,"y":0.586,"n":150},{"x":0.789,"y":0.586,"n":150},{"x":0.805,"y":0.586,"n":150},{"x":0.82,"y":0.586,"n":120},{"x":0.836,"y":0.586,"n":120},{"x":0.852,"y":0.586,"n":85},{"x":0.867,"y":0.586,"n":85},{"x":0.883,"y":0.586,"n":85},{"x":0.898,"y":0.586,"n":50},{"x":0.914,"y":0.586,"n":50},{"x":0.93,"y":0.586,"n":50},{"x":0.945,"y":0.586,"n":50},{"x":0.961,"y":0.586,"n":50},{"x":0.977,"y":0.586,"n":50},{"x":0.992,"y":0.586,"n":50},
{"x":0.289,"y":0.602,"n":50},{"x":0.305,"y":0.602,"n":50},{"x":0.32,"y":0.602,"n":85},{"x":0.336,"y":0.602,"n":85},{"x":0.352,"y":0.602,"n":120},{"x":0.367,"y":0.602,"n":150},{"x":0.383,"y":0.602,"n":120},{"x":0.398,"y":0.602,"n":120},{"x":0.414,"y":0.602,"n":150},{"x":0.43,"y":0.602,"n":150},{"x":0.445,"y":0.602,"n":190},{"x":0.461,"y":0.602,"n":190},{"x":0.477,"y":0.602,"n":190},{"x":0.492,"y":0.602,"n":220},{"x":0.508,"y":0.602,"n":190},{"x":0.523,"y":0.602,"n":190},{"x":0.539,"y":0.602,"n":190},{"x":0.555,"y":0.602,"n":190},{"x":0.57,"y":0.602,"n":190},{"x":0.586,"y":0.602,"n":150},{"x":0.602,"y":0.602,"n":150},{"x":0.617,"y":0.602,"n":150},{"x":0.633,"y":0.602,"n":120},{"x":0.648,"y":0.602,"n":120},{"x":0.664,"y":0.602,"n":120},{"x":0.68,"y":0.602,"n":120},{"x":0.695,"y":0.602,"n":120},{"x":0.711,"y":0.602,"n":120},{"x":0.727,"y":0.602,"n":150},{"x":0.742,"y":0.602,"n":150},{"x":0.758,"y":0.602,"n":120},{"x":0.773,"y":0.602,"n":150},{"x":0.789,"y":0.602,"n":150},{"x":0.805,"y":0.602,"n":120},{"x":0.82,"y":0.602,"n":120},{"x":0.836,"y":0.602,"n":120},{"x":0.852,"y":0.602,"n":85},{"x":0.867,"y":0.602,"n":85},{"x":0.883,"y":0.602,"n":85},{"x":0.898,"y":0.602,"n":50},{"x":0.914,"y":0.602,"n":50},{"x":0.93,"y":0.602,"n":50},{"x":0.945,"y":0.602,"n":50},{"x":0.961,"y":0.602,"n":50},{"x":0.977,"y":0.602,"n":50},{"x":0.992,"y":0.602,"n":50},{"x":1.008,"y":0.602,"n":50},{"x":1.055,"y":0.602,"n":50},
{"x":0.289,"y":0.617,"n":50},{"x":0.305,"y":0.617,"n":50},{"x":0.32,"y":0.617,"n":85},{"x":0.336,"y":0.617,"n":85},{"x":0.352,"y":0.617,"n":120},{"x":0.367,"y":0.617,"n":120},{"x":0.383,"y":0.617,"n":150},{"x":0.398,"y":0.617,"n":120},{"x":0.414,"y":0.617,"n":150},{"x":0.43,"y":0.617,"n":150},{"x":0.445,"y":0.617,"n":190},{"x":0.461,"y":0.617,"n":190},{"x":0.477,"y":0.617,"n":190},{"x":0.492,"y":0.617,"n":190},{"x":0.508,"y":0.617,"n":190},{"x":0.523,"y":0.617,"n":220},{"x":0.539,"y":0.617,"n":150},{"x":0.555,"y":0.617,"n":150},{"x":0.57,"y":0.617,"n":150},{"x":0.586,"y":0.617,"n":150},{"x":0.602,"y":0.617,"n":150},{"x":0.617,"y":0.617,"n":120},{"x":0.633,"y":0.617,"n":120},{"x":0.648,"y":0.617,"n":120},{"x":0.664,"y":0.617,"n":120},{"x":0.68,"y":0.617,"n":120},{"x":0.695,"y":0.617,"n":120},{"x":0.711,"y":0.617,"n":120},{"x":0.727,"y":0.617,"n":120},{"x":0.742,"y":0.617,"n":150},{"x":0.758,"y":0.617,"n":150},{"x":0.773,"y":0.617,"n":150},{"x":0.789,"y":0.617,"n":150},{"x":0.805,"y":0.617,"n":120},{"x":0.82,"y":0.617,"n":120},{"x":0.836,"y":0.617,"n":120},{"x":0.852,"y":0.617,"n":85},{"x":0.867,"y":0.617,"n":85},{"x":0.883,"y":0.617,"n":50},{"x":0.898,"y":0.617,"n":50},{"x":0.914,"y":0.617,"n":50},{"x":0.93,"y":0.617,"n":50},{"x":0.945,"y":0.617,"n":50},{"x":0.961,"y":0.617,"n":50},{"x":0.977,"y":0.617,"n":50},{"x":0.992,"y":0.617,"n":50},{"x":1.008,"y":0.617,"n":50},
{"x":0.289,"y":0.633,"n":50},{"x":0.305,"y":0.633,"n":50},{"x":0.32,"y":0.633,"n":50},{"x":0.336,"y":0.633,"n":85},{"x":0.352,"y":0.633,"n":120},{"x":0.367,"y":0.633,"n":120},{"x":0.383,"y":0.633,"n":120},{"x":0.398,"y":0.633,"n":150},{"x":0.414,"y":0.633,"n":120},{"x":0.43,"y":0.633,"n":150},{"x":0.445,"y":0.633,"n":150},{"x":0.461,"y":0.633,"n":150},{"x":0.477,"y":0.633,"n":150},{"x":0.492,"y":0.633,"n":190},{"x":0.508,"y":0.633,"n":190},{"x":0.523,"y":0.633,"n":190},{"x":0.539,"y":0.633,"n":150},{"x":0.555,"y":0.633,"n":150},{"x":0.57,"y":0.633,"n":150},{"x":0.586,"y":0.633,"n":120},{"x":0.602,"y":0.633,"n":120},{"x":0.617,"y":0.633,"n":85},{"x":0.633,"y":0.633,"n":85},{"x":0.648,"y":0.633,"n":85},{"x":0.664,"y":0.633,"n":85},{"x":0.68,"y":0.633,"n":120},{"x":0.695,"y":0.633,"n":120},{"x":0.711,"y":0.633,"n":120},{"x":0.727,"y":0.633,"n":120},{"x":0.742,"y":0.633,"n":120},{"x":0.758,"y":0.633,"n":150},{"x":0.773,"y":0.633,"n":150},{"x":0.789,"y":0.633,"n":120},{"x":0.805,"y":0.633,"n":120},{"x":0.82,"y":0.633,"n":120},{"x":0.836,"y":0.633,"n":120},{"x":0.852,"y":0.633,"n":85},{"x":0.867,"y":0.633,"n":85},{"x":0.883,"y":0.633,"n":50},{"x":0.898,"y":0.633,"n":50},{"x":0.914,"y":0.633,"n":50},{"x":0.93,"y":0.633,"n":50},{"x":0.945,"y":0.633,"n":50},{"x":0.977,"y":0.633,"n":50},{"x":1.023,"y":0.633,"n":50},{"x":1.039,"y":0.633,"n":50},{"x":1.086,"y":0.633,"n":50},{"x":1.102,"y":0.633,"n":50},{"x":1.133,"y":0.633,"n":50},
{"x":0.289,"y":0.648,"n":50},{"x":0.305,"y":0.648,"n":50},{"x":0.32,"y":0.648,"n":50},{"x":0.336,"y":0.648,"n":85},{"x":0.352,"y":0.648,"n":85},{"x":0.367,"y":0.648,"n":120},{"x":0.383,"y":0.648,"n":120},{"x":0.398,"y":0.648,"n":120},{"x":0.414,"y":0.648,"n":150},{"x":0.43,"y":0.648,"n":150},{"x":0.445,"y":0.648,"n":150},{"x":0.461,"y":0.648,"n":150},{"x":0.477,"y":0.648,"n":190},{"x":0.492,"y":0.648,"n":150},{"x":0.508,"y":0.648,"n":150},{"x":0.523,"y":0.648,"n":150},{"x":0.539,"y":0.648,"n":190},{"x":0.555,"y":0.648,"n":150},{"x":0.57,"y":0.648,"n":120},{"x":0.586,"y":0.648,"n":150},{"x":0.602,"y":0.648,"n":120},{"x":0.617,"y":0.648,"n":85},{"x":0.633,"y":0.648,"n":85},{"x":0.648,"y":0.648,"n":85},{"x":0.664,"y":0.648,"n":85},{"x":0.68,"y":0.648,"n":120},{"x":0.695,"y":0.648,"n":120},{"x":0.711,"y":0.648,"n":120},{"x":0.727,"y":0.648,"n":150},{"x":0.742,"y":0.648,"n":150},{"x":0.758,"y":0.648,"n":120},{"x":0.773,"y":0.648,"n":120},{"x":0.789,"y":0.648,"n":120},{"x":0.805,"y":0.648,"n":120},{"x":0.82,"y":0.648,"n":120},{"x":0.836,"y":0.648,"n":120},{"x":0.852,"y":0.648,"n":85},{"x":0.867,"y":0.648,"n":85},{"x":0.883,"y":0.648,"n":50},{"x":0.898,"y":0.648,"n":50},{"x":0.914,"y":0.648,"n":50},{"x":0.93,"y":0.648,"n":50},{"x":0.945,"y":0.648,"n":50},{"x":0.961,"y":0.648,"n":50},{"x":0.977,"y":0.648,"n":50},{"x":0.992,"y":0.648,"n":50},{"x":1.008,"y":0.648,"n":50},{"x":1.023,"y":0.648,"n":50},{"x":1.039,"y":0.648,"n":50},{"x":1.07,"y":0.648,"n":50},{"x":1.117,"y":0.648,"n":50},
{"x":0.289,"y":0.664,"n":50},{"x":0.305,"y":0.664,"n":50},{"x":0.32,"y":0.664,"n":50},{"x":0.336,"y":0.664,"n":85},{"x":0.352,"y":0.664,"n":85},{"x":0.367,"y":0.664,"n":85},{"x":0.383,"y":0.664,"n":120},{"x":0.398,"y":0.664,"n":120},{"x":0.414,"y":0.664,"n":150},{"x":0.43,"y":0.664,"n":150},{"x":0.445,"y":0.664,"n":150},{"x":0.461,"y":0.664,"n":150},{"x":0.477,"y":0.664,"n":120},{"x":0.492,"y":0.664,"n":150},{"x":0.508,"y":0.664,"n":150},{"x":0.523,"y":0.664,"n":150},{"x":0.539,"y":0.664,"n":150},{"x":0.555,"y":0.664,"n":150},{"x":0.57,"y":0.664,"n":150},{"x":0.586,"y":0.664,"n":120},{"x":0.602,"y":0.664,"n":120},{"x":0.617,"y":0.664,"n":120},{"x":0.633,"y":0.664,"n":120},{"x":0.648,"y":0.664,"n":120},{"x":0.664,"y":0.664,"n":120},{"x":0.68,"y":0.664,"n":120},{"x":0.695,"y":0.664,"n":120},{"x":0.711,"y":0.664,"n":120},{"x":0.727,"y":0.664,"n":150},{"x":0.742,"y":0.664,"n":120},{"x":0.758,"y":0.664,"n":150},{"x":0.773,"y":0.664,"n":150},{"x":0.789,"y":0.664,"n":150},{"x":0.805,"y":0.664,"n":120},{"x":0.82,"y":0.664,"n":120},{"x":0.836,"y":0.664,"n":120},{"x":0.852,"y":0.664,"n":85},{"x":0.867,"y":0.664,"n":85},{"x":0.883,"y":0.664,"n":50},{"x":0.898,"y":0.664,"n":50},{"x":0.914,"y":0.664,"n":50},{"x":0.93,"y":0.664,"n":50},{"x":0.945,"y":0.664,"n":50},{"x":0.961,"y":0.664,"n":50},{"x":0.992,"y":0.664,"n":50},{"x":1.008,"y":0.664,"n":50},{"x":1.023,"y":0.664,"n":50},{"x":1.039,"y":0.664,"n":50},{"x":1.055,"y":0.664,"n":50},{"x":1.07,"y":0.664,"n":50},
{"x":0.305,"y":0.68,"n":85},{"x":0.32,"y":0.68,"n":85},{"x":0.336,"y":0.68,"n":85},{"x":0.352,"y":0.68,"n":120},{"x":0.367,"y":0.68,"n":120},{"x":0.383,"y":0.68,"n":120},{"x":0.398,"y":0.68,"n":120},{"x":0.414,"y":0.68,"n":150},{"x":0.43,"y":0.68,"n":150},{"x":0.445,"y":0.68,"n":150},{"x":0.461,"y":0.68,"n":150},{"x":0.477,"y":0.68,"n":190},{"x":0.492,"y":0.68,"n":190},{"x":0.508,"y":0.68,"n":150},{"x":0.523,"y":0.68,"n":190},{"x":0.539,"y":0.68,"n":150},{"x":0.555,"y":0.68,"n":150},{"x":0.57,"y":0.68,"n":150},{"x":0.586,"y":0.68,"n":150},{"x":0.602,"y":0.68,"n":120},{"x":0.617,"y":0.68,"n":120},{"x":0.633,"y":0.68,"n":85},{"x":0.648,"y":0.68,"n":120},{"x":0.664,"y":0.68,"n":120},{"x":0.68,"y":0.68,"n":120},{"x":0.695,"y":0.68,"n":120},{"x":0.711,"y":0.68,"n":120},{"x":0.727,"y":0.68,"n":150},{"x":0.742,"y":0.68,"n":150},{"x":0.758,"y":0.68,"n":150},{"x":0.773,"y":0.68,"n":150},{"x":0.789,"y":0.68,"n":120},{"x":0.805,"y":0.68,"n":150},{"x":0.82,"y":0.68,"n":120},{"x":0.836,"y":0.68,"n":120},{"x":0.852,"y":0.68,"n":85},{"x":0.867,"y":0.68,"n":85},{"x":0.883,"y":0.68,"n":85},{"x":0.898,"y":0.68,"n":85},{"x":0.914,"y":0.68,"n":50},{"x":0.93,"y":0.68,"n":50},{"x":0.945,"y":0.68,"n":50},{"x":0.961,"y":0.68,"n":50},{"x":0.977,"y":0.68,"n":50},{"x":0.992,"y":0.68,"n":50},{"x":1.008,"y":0.68,"n":50},{"x":1.023,"y":0.68,"n":50},{"x":1.039,"y":0.68,"n":50},{"x":1.055,"y":0.68,"n":50},{"x":1.07,"y":0.68,"n":50},{"x":1.086,"y":0.68,"n":50},{"x":1.148,"y":0.68,"n":50},
{"x":0.305,"y":0.695,"n":50},{"x":0.32,"y":0.695,"n":85},{"x":0.336,"y":0.695,"n":85},{"x":0.352,"y":0.695,"n":120},{"x":0.367,"y":0.695,"n":120},{"x":0.383,"y":0.695,"n":85},{"x":0.398,"y":0.695,"n":150},{"x":0.414,"y":0.695,"n":150},{"x":0.43,"y":0.695,"n":150},{"x":0.445,"y":0.695,"n":150},{"x":0.461,"y":0.695,"n":150},{"x":0.477,"y":0.695,"n":190},{"x":0.492,"y":0.695,"n":190},{"x":0.508,"y":0.695,"n":190},{"x":0.523,"y":0.695,"n":150},{"x":0.539,"y":0.695,"n":150},{"x":0.555,"y":0.695,"n":190},{"x":0.57,"y":0.695,"n":120},{"x":0.586,"y":0.695,"n":120},{"x":0.602,"y":0.695,"n":120},{"x":0.617,"y":0.695,"n":120},{"x":0.633,"y":0.695,"n":85},{"x":0.648,"y":0.695,"n":120},{"x":0.664,"y":0.695,"n":120},{"x":0.68,"y":0.695,"n":120},{"x":0.695,"y":0.695,"n":120},{"x":0.711,"y":0.695,"n":150},{"x":0.727,"y":0.695,"n":150},{"x":0.742,"y":0.695,"n":150},{"x":0.758,"y":0.695,"n":150},{"x":0.773,"y":0.695,"n":150},{"x":0.789,"y":0.695,"n":150},{"x":0.805,"y":0.695,"n":150},{"x":0.82,"y":0.695,"n":120},{"x":0.836,"y":0.695,"n":120},{"x":0.852,"y":0.695,"n":85},{"x":0.867,"y":0.695,"n":85},{"x":0.883,"y":0.695,"n":85},{"x":0.898,"y":0.695,"n":85},{"x":0.914,"y":0.695,"n":85},{"x":0.93,"y":0.695,"n":50},{"x":0.945,"y":0.695,"n":50},{"x":0.961,"y":0.695,"n":50},{"x":0.977,"y":0.695,"n":50},{"x":0.992,"y":0.695,"n":50},{"x":1.008,"y":0.695,"n":50},{"x":1.023,"y":0.695,"n":50},{"x":1.039,"y":0.695,"n":50},{"x":1.07,"y":0.695,"n":50},
{"x":0.289,"y":0.711,"n":50},{"x":0.305,"y":0.711,"n":50},{"x":0.32,"y":0.711,"n":85},{"x":0.336,"y":0.711,"n":85},{"x":0.352,"y":0.711,"n":120},{"x":0.367,"y":0.711,"n":120},{"x":0.383,"y":0.711,"n":120},{"x":0.398,"y":0.711,"n":120},{"x":0.414,"y":0.711,"n":120},{"x":0.43,"y":0.711,"n":190},{"x":0.445,"y":0.711,"n":190},{"x":0.461,"y":0.711,"n":190},{"x":0.477,"y":0.711,"n":150},{"x":0.492,"y":0.711,"n":190},{"x":0.508,"y":0.711,"n":190},{"x":0.523,"y":0.711,"n":150},{"x":0.539,"y":0.711,"n":150},{"x":0.555,"y":0.711,"n":150},{"x":0.57,"y":0.711,"n":120},{"x":0.586,"y":0.711,"n":120},{"x":0.602,"y":0.711,"n":120},{"x":0.617,"y":0.711,"n":120},{"x":0.633,"y":0.711,"n":120},{"x":0.648,"y":0.711,"n":120},{"x":0.664,"y":0.711,"n":120},{"x":0.68,"y":0.711,"n":150},{"x":0.695,"y":0.711,"n":150},{"x":0.711,"y":0.711,"n":150},{"x":0.727,"y":0.711,"n":150},{"x":0.742,"y":0.711,"n":190},{"x":0.758,"y":0.711,"n":190},{"x":0.773,"y":0.711,"n":190},{"x":0.789,"y":0.711,"n":150},{"x":0.805,"y":0.711,"n":150},{"x":0.82,"y":0.711,"n":150},{"x":0.836,"y":0.711,"n":120},{"x":0.852,"y":0.711,"n":120},{"x":0.867,"y":0.711,"n":120},{"x":0.883,"y":0.711,"n":120},{"x":0.898,"y":0.711,"n":85},{"x":0.914,"y":0.711,"n":85},{"x":0.93,"y":0.711,"n":85},{"x":0.945,"y":0.711,"n":85},{"x":0.961,"y":0.711,"n":50},{"x":0.977,"y":0.711,"n":50},{"x":0.992,"y":0.711,"n":50},{"x":1.008,"y":0.711,"n":50},{"x":1.023,"y":0.711,"n":50},{"x":1.039,"y":0.711,"n":50},{"x":1.055,"y":0.711,"n":50},
{"x":0.289,"y":0.727,"n":50},{"x":0.305,"y":0.727,"n":85},{"x":0.32,"y":0.727,"n":85},{"x":0.336,"y":0.727,"n":120},{"x":0.352,"y":0.727,"n":120},{"x":0.367,"y":0.727,"n":150},{"x":0.383,"y":0.727,"n":150},{"x":0.398,"y":0.727,"n":150},{"x":0.414,"y":0.727,"n":150},{"x":0.43,"y":0.727,"n":190},{"x":0.445,"y":0.727,"n":190},{"x":0.461,"y":0.727,"n":190},{"x":0.477,"y":0.727,"n":150},{"x":0.492,"y":0.727,"n":190},{"x":0.508,"y":0.727,"n":190},{"x":0.523,"y":0.727,"n":150},{"x":0.539,"y":0.727,"n":150},{"x":0.555,"y":0.727,"n":150},{"x":0.57,"y":0.727,"n":150},{"x":0.586,"y":0.727,"n":120},{"x":0.602,"y":0.727,"n":150},{"x":0.617,"y":0.727,"n":150},{"x":0.633,"y":0.727,"n":150},{"x":0.648,"y":0.727,"n":150},{"x":0.664,"y":0.727,"n":120},{"x":0.68,"y":0.727,"n":150},{"x":0.695,"y":0.727,"n":150},{"x":0.711,"y":0.727,"n":190},{"x":0.727,"y":0.727,"n":190},{"x":0.742,"y":0.727,"n":190},{"x":0.758,"y":0.727,"n":150},{"x":0.773,"y":0.727,"n":220},{"x":0.789,"y":0.727,"n":150},{"x":0.805,"y":0.727,"n":150},{"x":0.82,"y":0.727,"n":150},{"x":0.836,"y":0.727,"n":120},{"x":0.852,"y":0.727,"n":120},{"x":0.867,"y":0.727,"n":120},{"x":0.883,"y":0.727,"n":120},{"x":0.898,"y":0.727,"n":85},{"x":0.914,"y":0.727,"n":85},{"x":0.93,"y":0.727,"n":85},{"x":0.945,"y":0.727,"n":85},{"x":0.961,"y":0.727,"n":50},{"x":0.977,"y":0.727,"n":50},{"x":0.992,"y":0.727,"n":50},{"x":1.008,"y":0.727,"n":50},{"x":1.023,"y":0.727,"n":50},{"x":1.055,"y":0.727,"n":50},{"x":1.07,"y":0.727,"n":50},{"x":1.086,"y":0.727,"n":50},{"x":1.102,"y":0.727,"n":50},{"x":1.117,"y":0.727,"n":50},
{"x":0.289,"y":0.742,"n":50},{"x":0.305,"y":0.742,"n":85},{"x":0.32,"y":0.742,"n":85},{"x":0.336,"y":0.742,"n":120},{"x":0.352,"y":0.742,"n":120},{"x":0.367,"y":0.742,"n":150},{"x":0.383,"y":0.742,"n":150},{"x":0.398,"y":0.742,"n":150},{"x":0.414,"y":0.742,"n":190},{"x":0.43,"y":0.742,"n":190},{"x":0.445,"y":0.742,"n":150},{"x":0.461,"y":0.742,"n":190},{"x":0.477,"y":0.742,"n":190},{"x":0.492,"y":0.742,"n":190},{"x":0.508,"y":0.742,"n":190},{"x":0.523,"y":0.742,"n":190},{"x":0.539,"y":0.742,"n":220},{"x":0.555,"y":0.742,"n":150},{"x":0.57,"y":0.742,"n":150},{"x":0.586,"y":0.742,"n":150},{"x":0.602,"y":0.742,"n":150},{"x":0.617,"y":0.742,"n":150},{"x":0.633,"y":0.742,"n":150},{"x":0.648,"y":0.742,"n":150},{"x":0.664,"y":0.742,"n":150},{"x":0.68,"y":0.742,"n":190},{"x":0.695,"y":0.742,"n":190},{"x":0.711,"y":0.742,"n":190},{"x":0.727,"y":0.742,"n":190},{"x":0.742,"y":0.742,"n":220},{"x":0.758,"y":0.742,"n":220},{"x":0.773,"y":0.742,"n":255},{"x":0.789,"y":0.742,"n":220},{"x":0.805,"y":0.742,"n":190},{"x":0.82,"y":0.742,"n":150},{"x":0.836,"y":0.742,"n":120},{"x":0.852,"y":0.742,"n":120},{"x":0.867,"y":0.742,"n":120},{"x":0.883,"y":0.742,"n":85},{"x":0.898,"y":0.742,"n":85},{"x":0.914,"y":0.742,"n":85},{"x":0.93,"y":0.742,"n":85},{"x":0.945,"y":0.742,"n":85},{"x":0.961,"y":0.742,"n":50},{"x":0.977,"y":0.742,"n":50},{"x":0.992,"y":0.742,"n":50},{"x":1.008,"y":0.742,"n":50},{"x":1.023,"y":0.742,"n":50},{"x":1.039,"y":0.742,"n":50},{"x":1.055,"y":0.742,"n":50},{"x":1.07,"y":0.742,"n":50},{"x":1.086,"y":0.742,"n":50},{"x":1.102,"y":0.742,"n":50},{"x":1.117,"y":0.742,"n":50},{"x":1.148,"y":0.742,"n":50},
{"x":0.289,"y":0.758,"n":50},{"x":0.305,"y":0.758,"n":85},{"x":0.32,"y":0.758,"n":85},{"x":0.336,"y":0.758,"n":120},{"x":0.352,"y":0.758,"n":120},{"x":0.367,"y":0.758,"n":150},{"x":0.383,"y":0.758,"n":150},{"x":0.398,"y":0.758,"n":150},{"x":0.414,"y":0.758,"n":190},{"x":0.43,"y":0.758,"n":190},{"x":0.445,"y":0.758,"n":190},{"x":0.461,"y":0.758,"n":190},{"x":0.477,"y":0.758,"n":220},{"x":0.492,"y":0.758,"n":190},{"x":0.508,"y":0.758,"n":190},{"x":0.523,"y":0.758,"n":190},{"x":0.539,"y":0.758,"n":190},{"x":0.555,"y":0.758,"n":150},{"x":0.57,"y":0.758,"n":150},{"x":0.586,"y":0.758,"n":150},{"x":0.602,"y":0.758,"n":150},{"x":0.617,"y":0.758,"n":150},{"x":0.633,"y":0.758,"n":150},{"x":0.648,"y":0.758,"n":150},{"x":0.664,"y":0.758,"n":190},{"x":0.68,"y":0.758,"n":150},{"x":0.695,"y":0.758,"n":150},{"x":0.711,"y":0.758,"n":190},{"x":0.727,"y":0.758,"n":220},{"x":0.742,"y":0.758,"n":220},{"x":0.758,"y":0.758,"n":220},{"x":0.773,"y":0.758,"n":255},{"x":0.789,"y":0.758,"n":220},{"x":0.805,"y":0.758,"n":190},{"x":0.82,"y":0.758,"n":190},{"x":0.836,"y":0.758,"n":150},{"x":0.852,"y":0.758,"n":120},{"x":0.867,"y":0.758,"n":150},{"x":0.883,"y":0.758,"n":120},{"x":0.898,"y":0.758,"n":85},{"x":0.914,"y":0.758,"n":85},{"x":0.93,"y":0.758,"n":85},{"x":0.945,"y":0.758,"n":50},{"x":0.961,"y":0.758,"n":85},{"x":0.977,"y":0.758,"n":50},{"x":0.992,"y":0.758,"n":50},{"x":1.008,"y":0.758,"n":50},{"x":1.023,"y":0.758,"n":50},{"x":1.039,"y":0.758,"n":50},{"x":1.055,"y":0.758,"n":50},{"x":1.07,"y":0.758,"n":50},{"x":1.086,"y":0.758,"n":50},{"x":1.102,"y":0.758,"n":50},{"x":1.133,"y":0.758,"n":50},{"x":1.164,"y":0.758,"n":50},
{"x":0.289,"y":0.773,"n":50},{"x":0.305,"y":0.773,"n":85},{"x":0.32,"y":0.773,"n":120},{"x":0.336,"y":0.773,"n":120},{"x":0.352,"y":0.773,"n":150},{"x":0.367,"y":0.773,"n":150},{"x":0.383,"y":0.773,"n":150},{"x":0.398,"y":0.773,"n":150},{"x":0.414,"y":0.773,"n":190},{"x":0.43,"y":0.773,"n":150},{"x":0.445,"y":0.773,"n":190},{"x":0.461,"y":0.773,"n":190},{"x":0.477,"y":0.773,"n":190},{"x":0.492,"y":0.773,"n":190},{"x":0.508,"y":0.773,"n":190},{"x":0.523,"y":0.773,"n":150},{"x":0.539,"y":0.773,"n":150},{"x":0.555,"y":0.773,"n":220},{"x":0.57,"y":0.773,"n":150},{"x":0.586,"y":0.773,"n":150},{"x":0.602,"y":0.773,"n":150},{"x":0.617,"y":0.773,"n":150},{"x":0.633,"y":0.773,"n":150},{"x":0.648,"y":0.773,"n":150},{"x":0.664,"y":0.773,"n":120},{"x":0.68,"y":0.773,"n":150},{"x":0.695,"y":0.773,"n":150},{"x":0.711,"y":0.773,"n":190},{"x":0.727,"y":0.773,"n":220},{"x":0.742,"y":0.773,"n":255},{"x":0.758,"y":0.773,"n":220},{"x":0.773,"y":0.773,"n":255},{"x":0.789,"y":0.773,"n":220},{"x":0.805,"y":0.773,"n":190},{"x":0.82,"y":0.773,"n":190},{"x":0.836,"y":0.773,"n":120},{"x":0.852,"y":0.773,"n":120},{"x":0.867,"y":0.773,"n":120},{"x":0.883,"y":0.773,"n":85},{"x":0.898,"y":0.773,"n":120},{"x":0.914,"y":0.773,"n":85},{"x":0.93,"y":0.773,"n":85},{"x":0.945,"y":0.773,"n":85},{"x":0.961,"y":0.773,"n":50},{"x":0.977,"y":0.773,"n":50},{"x":0.992,"y":0.773,"n":50},{"x":1.008,"y":0.773,"n":50},{"x":1.023,"y":0.773,"n":50},{"x":1.039,"y":0.773,"n":50},{"x":1.055,"y":0.773,"n":50},{"x":1.07,"y":0.773,"n":50},{"x":1.102,"y":0.773,"n":50},{"x":1.148,"y":0.773,"n":50},
{"x":0.289,"y":0.789,"n":50},{"x":0.305,"y":0.789,"n":85},{"x":0.32,"y":0.789,"n":85},{"x":0.336,"y":0.789,"n":120},{"x":0.352,"y":0.789,"n":120},{"x":0.367,"y":0.789,"n":150},{"x":0.383,"y":0.789,"n":150},{"x":0.398,"y":0.789,"n":150},{"x":0.414,"y":0.789,"n":190},{"x":0.43,"y":0.789,"n":150},{"x":0.445,"y":0.789,"n":190},{"x":0.461,"y":0.789,"n":190},{"x":0.477,"y":0.789,"n":150},{"x":0.492,"y":0.789,"n":220},{"x":0.508,"y":0.789,"n":190},{"x":0.523,"y":0.789,"n":150},{"x":0.539,"y":0.789,"n":150},{"x":0.555,"y":0.789,"n":150},{"x":0.57,"y":0.789,"n":150},{"x":0.586,"y":0.789,"n":120},{"x":0.602,"y":0.789,"n":150},{"x":0.617,"y":0.789,"n":150},{"x":0.633,"y":0.789,"n":150},{"x":0.648,"y":0.789,"n":150},{"x":0.664,"y":0.789,"n":120},{"x":0.68,"y":0.789,"n":150},{"x":0.695,"y":0.789,"n":150},{"x":0.711,"y":0.789,"n":190},{"x":0.727,"y":0.789,"n":190},{"x":0.742,"y":0.789,"n":220},{"x":0.758,"y":0.789,"n":220},{"x":0.773,"y":0.789,"n":220},{"x":0.789,"y":0.789,"n":190},{"x":0.805,"y":0.789,"n":190},{"x":0.82,"y":0.789,"n":150},{"x":0.836,"y":0.789,"n":150},{"x":0.852,"y":0.789,"n":120},{"x":0.867,"y":0.789,"n":120},{"x":0.883,"y":0.789,"n":85},{"x":0.898,"y":0.789,"n":85},{"x":0.914,"y":0.789,"n":85},{"x":0.93,"y":0.789,"n":85},{"x":0.945,"y":0.789,"n":50},{"x":0.961,"y":0.789,"n":50},{"x":0.977,"y":0.789,"n":50},{"x":0.992,"y":0.789,"n":50},{"x":1.008,"y":0.789,"n":50},{"x":1.023,"y":0.789,"n":50},{"x":1.039,"y":0.789,"n":50},{"x":1.07,"y":0.789,"n":50},{"x":1.117,"y":0.789,"n":50},{"x":1.133,"y":0.789,"n":50},{"x":1.164,"y":0.789,"n":50},
{"x":0.289,"y":0.805,"n":50},{"x":0.305,"y":0.805,"n":85},{"x":0.32,"y":0.805,"n":120},{"x":0.336,"y":0.805,"n":85},{"x":0.352,"y":0.805,"n":150},{"x":0.367,"y":0.805,"n":120},{"x":0.383,"y":0.805,"n":150},{"x":0.398,"y":0.805,"n":150},{"x":0.414,"y":0.805,"n":150},{"x":0.43,"y":0.805,"n":150},{"x":0.445,"y":0.805,"n":190},{"x":0.461,"y":0.805,"n":190},{"x":0.477,"y":0.805,"n":150},{"x":0.492,"y":0.805,"n":150},{"x":0.508,"y":0.805,"n":190},{"x":0.523,"y":0.805,"n":150},{"x":0.539,"y":0.805,"n":190},{"x":0.555,"y":0.805,"n":150},{"x":0.57,"y":0.805,"n":150},{"x":0.586,"y":0.805,"n":150},{"x":0.602,"y":0.805,"n":150},{"x":0.617,"y":0.805,"n":120},{"x":0.633,"y":0.805,"n":120},{"x":0.648,"y":0.805,"n":120},{"x":0.664,"y":0.805,"n":120},{"x":0.68,"y":0.805,"n":120},{"x":0.695,"y":0.805,"n":150},{"x":0.711,"y":0.805,"n":150},{"x":0.727,"y":0.805,"n":190},{"x":0.742,"y":0.805,"n":190},{"x":0.758,"y":0.805,"n":220},{"x":0.773,"y":0.805,"n":190},{"x":0.789,"y":0.805,"n":190},{"x":0.805,"y":0.805,"n":150},{"x":0.82,"y":0.805,"n":120},{"x":0.836,"y":0.805,"n":120},{"x":0.852,"y":0.805,"n":120},{"x":0.867,"y":0.805,"n":85},{"x":0.883,"y":0.805,"n":85},{"x":0.898,"y":0.805,"n":85},{"x":0.914,"y":0.805,"n":50},{"x":0.93,"y":0.805,"n":50},{"x":0.945,"y":0.805,"n":50},{"x":0.961,"y":0.805,"n":50},{"x":0.977,"y":0.805,"n":50},{"x":0.992,"y":0.805,"n":50},{"x":1.008,"y":0.805,"n":50},{"x":1.023,"y":0.805,"n":50},{"x":1.039,"y":0.805,"n":50},{"x":1.07,"y":0.805,"n":50},
{"x":0.289,"y":0.82,"n":50},{"x":0.305,"y":0.82,"n":85},{"x":0.32,"y":0.82,"n":85},{"x":0.336,"y":0.82,"n":85},{"x":0.352,"y":0.82,"n":120},{"x":0.367,"y":0.82,"n":150},{"x":0.383,"y":0.82,"n":120},{"x":0.398,"y":0.82,"n":120},{"x":0.414,"y":0.82,"n":150},{"x":0.43,"y":0.82,"n":150},{"x":0.445,"y":0.82,"n":150},{"x":0.461,"y":0.82,"n":150},{"x":0.477,"y":0.82,"n":150},{"x":0.492,"y":0.82,"n":150},{"x":0.508,"y":0.82,"n":150},{"x":0.523,"y":0.82,"n":150},{"x":0.539,"y":0.82,"n":150},{"x":0.555,"y":0.82,"n":150},{"x":0.57,"y":0.82,"n":150},{"x":0.586,"y":0.82,"n":120},{"x":0.602,"y":0.82,"n":120},{"x":0.617,"y":0.82,"n":120},{"x":0.633,"y":0.82,"n":120},{"x":0.648,"y":0.82,"n":120},{"x":0.664,"y":0.82,"n":120},{"x":0.68,"y":0.82,"n":120},{"x":0.695,"y":0.82,"n":120},{"x":0.711,"y":0.82,"n":150},{"x":0.727,"y":0.82,"n":150},{"x":0.742,"y":0.82,"n":150},{"x":0.758,"y":0.82,"n":150},{"x":0.773,"y":0.82,"n":150},{"x":0.789,"y":0.82,"n":150},{"x":0.805,"y":0.82,"n":150},{"x":0.82,"y":0.82,"n":120},{"x":0.836,"y":0.82,"n":120},{"x":0.852,"y":0.82,"n":120},{"x":0.867,"y":0.82,"n":85},{"x":0.883,"y":0.82,"n":85},{"x":0.898,"y":0.82,"n":85},{"x":0.914,"y":0.82,"n":50},{"x":0.93,"y":0.82,"n":50},{"x":0.945,"y":0.82,"n":50},{"x":0.961,"y":0.82,"n":50},{"x":0.977,"y":0.82,"n":50},{"x":0.992,"y":0.82,"n":50},{"x":1.023,"y":0.82,"n":50},{"x":1.07,"y":0.82,"n":50},
{"x":0.305,"y":0.836,"n":50},{"x":0.32,"y":0.836,"n":50},{"x":0.336,"y":0.836,"n":85},{"x":0.352,"y":0.836,"n":120},{"x":0.367,"y":0.836,"n":120},{"x":0.383,"y":0.836,"n":120},{"x":0.398,"y":0.836,"n":120},{"x":0.414,"y":0.836,"n":150},{"x":0.43,"y":0.836,"n":150},{"x":0.445,"y":0.836,"n":150},{"x":0.461,"y":0.836,"n":120},{"x":0.477,"y":0.836,"n":150},{"x":0.492,"y":0.836,"n":150},{"x":0.508,"y":0.836,"n":120},{"x":0.523,"y":0.836,"n":150},{"x":0.539,"y":0.836,"n":120},{"x":0.555,"y":0.836,"n":150},{"x":0.57,"y":0.836,"n":150},{"x":0.586,"y":0.836,"n":150},{"x":0.602,"y":0.836,"n":120},{"x":0.617,"y":0.836,"n":120},{"x":0.633,"y":0.836,"n":120},{"x":0.648,"y":0.836,"n":120},{"x":0.664,"y":0.836,"n":120},{"x":0.68,"y":0.836,"n":120},{"x":0.695,"y":0.836,"n":120},{"x":0.711,"y":0.836,"n":150},{"x":0.727,"y":0.836,"n":150},{"x":0.742,"y":0.836,"n":150},{"x":0.758,"y":0.836,"n":150},{"x":0.773,"y":0.836,"n":150},{"x":0.789,"y":0.836,"n":120},{"x":0.805,"y":0.836,"n":120},{"x":0.82,"y":0.836,"n":120},{"x":0.836,"y":0.836,"n":85},{"x":0.852,"y":0.836,"n":85},{"x":0.867,"y":0.836,"n":85},{"x":0.883,"y":0.836,"n":50},{"x":0.898,"y":0.836,"n":50},{"x":0.914,"y":0.836,"n":50},{"x":0.93,"y":0.836,"n":50},{"x":0.945,"y":0.836,"n":50},{"x":0.961,"y":0.836,"n":50},{"x":1.023,"y":0.836,"n":50},
{"x":0.305,"y":0.852,"n":50},{"x":0.32,"y":0.852,"n":50},{"x":0.336,"y":0.852,"n":85},{"x":0.352,"y":0.852,"n":85},{"x":0.367,"y":0.852,"n":120},{"x":0.383,"y":0.852,"n":120},{"x":0.398,"y":0.852,"n":120},{"x":0.414,"y":0.852,"n":150},{"x":0.43,"y":0.852,"n":120},{"x":0.445,"y":0.852,"n":120},{"x":0.461,"y":0.852,"n":120},{"x":0.477,"y":0.852,"n":150},{"x":0.492,"y":0.852,"n":150},{"x":0.508,"y":0.852,"n":120},{"x":0.523,"y":0.852,"n":150},{"x":0.539,"y":0.852,"n":120},{"x":0.555,"y":0.852,"n":120},{"x":0.57,"y":0.852,"n":85},{"x":0.586,"y":0.852,"n":85},{"x":0.602,"y":0.852,"n":85},{"x":0.617,"y":0.852,"n":85},{"x":0.633,"y":0.852,"n":85},{"x":0.648,"y":0.852,"n":85},{"x":0.664,"y":0.852,"n":85},{"x":0.68,"y":0.852,"n":85},{"x":0.695,"y":0.852,"n":85},{"x":0.711,"y":0.852,"n":120},{"x":0.727,"y":0.852,"n":120},{"x":0.742,"y":0.852,"n":150},{"x":0.758,"y":0.852,"n":120},{"x":0.773,"y":0.852,"n":120},{"x":0.789,"y":0.852,"n":120},{"x":0.805,"y":0.852,"n":120},{"x":0.82,"y":0.852,"n":85},{"x":0.836,"y":0.852,"n":85},{"x":0.852,"y":0.852,"n":85},{"x":0.867,"y":0.852,"n":50},{"x":0.883,"y":0.852,"n":50},{"x":0.898,"y":0.852,"n":50},{"x":0.914,"y":0.852,"n":50},{"x":0.93,"y":0.852,"n":50},{"x":0.945,"y":0.852,"n":50},{"x":0.992,"y":0.852,"n":50},{"x":1.039,"y":0.852,"n":50},{"x":1.07,"y":0.852,"n":50},
{"x":0.289,"y":0.867,"n":50},{"x":0.305,"y":0.867,"n":50},{"x":0.32,"y":0.867,"n":50},{"x":0.336,"y":0.867,"n":85},{"x":0.352,"y":0.867,"n":85},{"x":0.367,"y":0.867,"n":85},{"x":0.383,"y":0.867,"n":85},{"x":0.398,"y":0.867,"n":120},{"x":0.414,"y":0.867,"n":120},{"x":0.43,"y":0.867,"n":120},{"x":0.445,"y":0.867,"n":120},{"x":0.461,"y":0.867,"n":120},{"x":0.477,"y":0.867,"n":150},{"x":0.492,"y":0.867,"n":120},{"x":0.508,"y":0.867,"n":120},{"x":0.523,"y":0.867,"n":120},{"x":0.539,"y":0.867,"n":120},{"x":0.555,"y":0.867,"n":120},{"x":0.57,"y":0.867,"n":85},{"x":0.586,"y":0.867,"n":85},{"x":0.602,"y":0.867,"n":85},{"x":0.617,"y":0.867,"n":50},{"x":0.633,"y":0.867,"n":85},{"x":0.648,"y":0.867,"n":85},{"x":0.664,"y":0.867,"n":85},{"x":0.68,"y":0.867,"n":85},{"x":0.695,"y":0.867,"n":85},{"x":0.711,"y":0.867,"n":85},{"x":0.727,"y":0.867,"n":120},{"x":0.742,"y":0.867,"n":120},{"x":0.758,"y":0.867,"n":85},{"x":0.773,"y":0.867,"n":85},{"x":0.789,"y":0.867,"n":120},{"x":0.805,"y":0.867,"n":85},{"x":0.82,"y":0.867,"n":85},{"x":0.836,"y":0.867,"n":85},{"x":0.852,"y":0.867,"n":85},{"x":0.867,"y":0.867,"n":50},{"x":0.883,"y":0.867,"n":50},{"x":0.898,"y":0.867,"n":50},{"x":0.914,"y":0.867,"n":50},{"x":0.945,"y":0.867,"n":50},{"x":0.961,"y":0.867,"n":50},
{"x":0.305,"y":0.883,"n":50},{"x":0.32,"y":0.883,"n":50},{"x":0.336,"y":0.883,"n":50},{"x":0.352,"y":0.883,"n":85},{"x":0.367,"y":0.883,"n":85},{"x":0.383,"y":0.883,"n":120},{"x":0.398,"y":0.883,"n":85},{"x":0.414,"y":0.883,"n":120},{"x":0.43,"y":0.883,"n":120},{"x":0.445,"y":0.883,"n":120},{"x":0.461,"y":0.883,"n":85},{"x":0.477,"y":0.883,"n":85},{"x":0.492,"y":0.883,"n":120},{"x":0.508,"y":0.883,"n":120},{"x":0.523,"y":0.883,"n":120},{"x":0.539,"y":0.883,"n":85},{"x":0.555,"y":0.883,"n":85},{"x":0.57,"y":0.883,"n":85},{"x":0.586,"y":0.883,"n":50},{"x":0.602,"y":0.883,"n":85},{"x":0.617,"y":0.883,"n":85},{"x":0.633,"y":0.883,"n":50},{"x":0.648,"y":0.883,"n":50},{"x":0.664,"y":0.883,"n":85},{"x":0.68,"y":0.883,"n":85},{"x":0.695,"y":0.883,"n":85},{"x":0.711,"y":0.883,"n":85},{"x":0.727,"y":0.883,"n":85},{"x":0.742,"y":0.883,"n":85},{"x":0.758,"y":0.883,"n":120},{"x":0.773,"y":0.883,"n":85},{"x":0.789,"y":0.883,"n":85},{"x":0.805,"y":0.883,"n":85},{"x":0.82,"y":0.883,"n":85},{"x":0.836,"y":0.883,"n":85},{"x":0.852,"y":0.883,"n":50},{"x":0.867,"y":0.883,"n":50},{"x":0.883,"y":0.883,"n":50},{"x":0.898,"y":0.883,"n":50},{"x":0.914,"y":0.883,"n":50},{"x":0.93,"y":0.883,"n":50},{"x":0.961,"y":0.883,"n":50},{"x":1.008,"y":0.883,"n":50},
{"x":0.305,"y":0.898,"n":50},{"x":0.32,"y":0.898,"n":50},{"x":0.336,"y":0.898,"n":50},{"x":0.352,"y":0.898,"n":50},{"x":0.367,"y":0.898,"n":85},{"x":0.383,"y":0.898,"n":85},{"x":0.398,"y":0.898,"n":85},{"x":0.414,"y":0.898,"n":85},{"x":0.43,"y":0.898,"n":120},{"x":0.445,"y":0.898,"n":85},{"x":0.461,"y":0.898,"n":120},{"x":0.477,"y":0.898,"n":85},{"x":0.492,"y":0.898,"n":120},{"x":0.508,"y":0.898,"n":120},{"x":0.523,"y":0.898,"n":120},{"x":0.539,"y":0.898,"n":85},{"x":0.555,"y":0.898,"n":85},{"x":0.57,"y":0.898,"n":50},{"x":0.586,"y":0.898,"n":50},{"x":0.602,"y":0.898,"n":50},{"x":0.617,"y":0.898,"n":50},{"x":0.633,"y":0.898,"n":85},{"x":0.648,"y":0.898,"n":85},{"x":0.664,"y":0.898,"n":85},{"x":0.68,"y":0.898,"n":50},{"x":0.695,"y":0.898,"n":85},{"x":0.711,"y":0.898,"n":85},{"x":0.727,"y":0.898,"n":85},{"x":0.742,"y":0.898,"n":85},{"x":0.758,"y":0.898,"n":85},{"x":0.773,"y":0.898,"n":85},{"x":0.789,"y":0.898,"n":85},{"x":0.805,"y":0.898,"n":85},{"x":0.82,"y":0.898,"n":85},{"x":0.836,"y":0.898,"n":50},{"x":0.852,"y":0.898,"n":50},{"x":0.867,"y":0.898,"n":50},{"x":0.883,"y":0.898,"n":50},{"x":0.898,"y":0.898,"n":50},
{"x":0.305,"y":0.914,"n":50},{"x":0.32,"y":0.914,"n":50},{"x":0.336,"y":0.914,"n":50},{"x":0.352,"y":0.914,"n":85},{"x":0.367,"y":0.914,"n":85},{"x":0.383,"y":0.914,"n":120},{"x":0.398,"y":0.914,"n":85},{"x":0.414,"y":0.914,"n":85},{"x":0.43,"y":0.914,"n":85},{"x":0.445,"y":0.914,"n":120},{"x":0.461,"y":0.914,"n":120},{"x":0.477,"y":0.914,"n":85},{"x":0.492,"y":0.914,"n":85},{"x":0.508,"y":0.914,"n":120},{"x":0.523,"y":0.914,"n":85},{"x":0.539,"y":0.914,"n":85},{"x":0.555,"y":0.914,"n":85},{"x":0.57,"y":0.914,"n":85},{"x":0.586,"y":0.914,"n":50},{"x":0.602,"y":0.914,"n":50},{"x":0.617,"y":0.914,"n":50},{"x":0.633,"y":0.914,"n":50},{"x":0.648,"y":0.914,"n":50},{"x":0.664,"y":0.914,"n":50},{"x":0.68,"y":0.914,"n":50},{"x":0.695,"y":0.914,"n":50},{"x":0.711,"y":0.914,"n":50},{"x":0.727,"y":0.914,"n":85},{"x":0.742,"y":0.914,"n":85},{"x":0.758,"y":0.914,"n":85},{"x":0.773,"y":0.914,"n":85},{"x":0.789,"y":0.914,"n":85},{"x":0.805,"y":0.914,"n":50},{"x":0.82,"y":0.914,"n":85},{"x":0.836,"y":0.914,"n":50},{"x":0.852,"y":0.914,"n":50},{"x":0.867,"y":0.914,"n":50},{"x":0.883,"y":0.914,"n":50},{"x":0.898,"y":0.914,"n":50},
{"x":0.305,"y":0.93,"n":50},{"x":0.32,"y":0.93,"n":50},{"x":0.336,"y":0.93,"n":50},{"x":0.352,"y":0.93,"n":85},{"x":0.367,"y":0.93,"n":85},{"x":0.383,"y":0.93,"n":85},{"x":0.398,"y":0.93,"n":85},{"x":0.414,"y":0.93,"n":85},{"x":0.43,"y":0.93,"n":85},{"x":0.445,"y":0.93,"n":85},{"x":0.461,"y":0.93,"n":120},{"x":0.477,"y":0.93,"n":85},{"x":0.492,"y":0.93,"n":85},{"x":0.508,"y":0.93,"n":85},{"x":0.523,"y":0.93,"n":85},{"x":0.539,"y":0.93,"n":85},{"x":0.555,"y":0.93,"n":85},{"x":0.57,"y":0.93,"n":50},{"x":0.586,"y":0.93,"n":85},{"x":0.602,"y":0.93,"n":50},{"x":0.617,"y":0.93,"n":50},{"x":0.633,"y":0.93,"n":50},{"x":0.648,"y":0.93,"n":50},{"x":0.664,"y":0.93,"n":50},{"x":0.68,"y":0.93,"n":50},{"x":0.695,"y":0.93,"n":50},{"x":0.711,"y":0.93,"n":50},{"x":0.727,"y":0.93,"n":50},{"x":0.742,"y":0.93,"n":50},{"x":0.758,"y":0.93,"n":50},{"x":0.773,"y":0.93,"n":85},{"x":0.789,"y":0.93,"n":50},{"x":0.805,"y":0.93,"n":85},{"x":0.82,"y":0.93,"n":50},{"x":0.836,"y":0.93,"n":50},{"x":0.852,"y":0.93,"n":50},{"x":0.867,"y":0.93,"n":50},{"x":0.883,"y":0.93,"n":50},{"x":0.898,"y":0.93,"n":50},
{"x":0.305,"y":0.945,"n":50},{"x":0.32,"y":0.945,"n":50},{"x":0.336,"y":0.945,"n":50},{"x":0.352,"y":0.945,"n":85},{"x":0.367,"y":0.945,"n":85},{"x":0.383,"y":0.945,"n":85},{"x":0.398,"y":0.945,"n":85},{"x":0.414,"y":0.945,"n":85},{"x":0.43,"y":0.945,"n":85},{"x":0.445,"y":0.945,"n":85},{"x":0.461,"y":0.945,"n":85},{"x":0.477,"y":0.945,"n":85},{"x":0.492,"y":0.945,"n":85},{"x":0.508,"y":0.945,"n":85},{"x":0.523,"y":0.945,"n":85},{"x":0.539,"y":0.945,"n":85},{"x":0.555,"y":0.945,"n":50},{"x":0.57,"y":0.945,"n":50},{"x":0.586,"y":0.945,"n":50},{"x":0.602,"y":0.945,"n":50},{"x":0.617,"y":0.945,"n":50},{"x":0.633,"y":0.945,"n":50},{"x":0.648,"y":0.945,"n":50},{"x":0.664,"y":0.945,"n":50},{"x":0.68,"y":0.945,"n":50},{"x":0.695,"y":0.945,"n":50},{"x":0.711,"y":0.945,"n":50},{"x":0.727,"y":0.945,"n":50},{"x":0.742,"y":0.945,"n":85},{"x":0.758,"y":0.945,"n":50},{"x":0.773,"y":0.945,"n":85},{"x":0.789,"y":0.945,"n":50},{"x":0.805,"y":0.945,"n":50},{"x":0.82,"y":0.945,"n":50},{"x":0.836,"y":0.945,"n":50},{"x":0.852,"y":0.945,"n":50},{"x":0.867,"y":0.945,"n":50},{"x":0.883,"y":0.945,"n":50},{"x":0.898,"y":0.945,"n":50},{"x":0.93,"y":0.945,"n":50},
{"x":0.305,"y":0.961,"n":50},{"x":0.32,"y":0.961,"n":50},{"x":0.336,"y":0.961,"n":50},{"x":0.352,"y":0.961,"n":85},{"x":0.367,"y":0.961,"n":50},{"x":0.383,"y":0.961,"n":85},{"x":0.398,"y":0.961,"n":85},{"x":0.414,"y":0.961,"n":120},{"x":0.43,"y":0.961,"n":85},{"x":0.445,"y":0.961,"n":85},{"x":0.461,"y":0.961,"n":85},{"x":0.477,"y":0.961,"n":85},{"x":0.492,"y":0.961,"n":85},{"x":0.508,"y":0.961,"n":85},{"x":0.523,"y":0.961,"n":85},{"x":0.539,"y":0.961,"n":50},{"x":0.555,"y":0.961,"n":50},{"x":0.57,"y":0.961,"n":50},{"x":0.586,"y":0.961,"n":50},{"x":0.602,"y":0.961,"n":50},{"x":0.617,"y":0.961,"n":50},{"x":0.633,"y":0.961,"n":50},{"x":0.648,"y":0.961,"n":50},{"x":0.664,"y":0.961,"n":50},{"x":0.68,"y":0.961,"n":50},{"x":0.695,"y":0.961,"n":50},{"x":0.711,"y":0.961,"n":50},{"x":0.727,"y":0.961,"n":85},{"x":0.742,"y":0.961,"n":50},{"x":0.758,"y":0.961,"n":50},{"x":0.773,"y":0.961,"n":50},{"x":0.789,"y":0.961,"n":50},{"x":0.805,"y":0.961,"n":50},{"x":0.82,"y":0.961,"n":50},{"x":0.836,"y":0.961,"n":50},{"x":0.852,"y":0.961,"n":50},
{"x":0.305,"y":0.977,"n":50},{"x":0.32,"y":0.977,"n":50},{"x":0.336,"y":0.977,"n":50},{"x":0.352,"y":0.977,"n":50},{"x":0.367,"y":0.977,"n":50},{"x":0.383,"y":0.977,"n":85},{"x":0.398,"y":0.977,"n":85},{"x":0.414,"y":0.977,"n":85},{"x":0.43,"y":0.977,"n":85},{"x":0.445,"y":0.977,"n":85},{"x":0.461,"y":0.977,"n":85},{"x":0.477,"y":0.977,"n":85},{"x":0.492,"y":0.977,"n":85},{"x":0.508,"y":0.977,"n":50},{"x":0.523,"y":0.977,"n":50},{"x":0.539,"y":0.977,"n":50},{"x":0.555,"y":0.977,"n":50},{"x":0.57,"y":0.977,"n":50},{"x":0.586,"y":0.977,"n":50},{"x":0.602,"y":0.977,"n":50},{"x":0.617,"y":0.977,"n":50},{"x":0.633,"y":0.977,"n":50},{"x":0.648,"y":0.977,"n":50},{"x":0.664,"y":0.977,"n":50},{"x":0.68,"y":0.977,"n":50},{"x":0.695,"y":0.977,"n":50},{"x":0.711,"y":0.977,"n":50},{"x":0.727,"y":0.977,"n":50},{"x":0.742,"y":0.977,"n":50},{"x":0.758,"y":0.977,"n":50},{"x":0.773,"y":0.977,"n":50},{"x":0.789,"y":0.977,"n":50},{"x":0.805,"y":0.977,"n":50},{"x":0.82,"y":0.977,"n":50},{"x":0.836,"y":0.977,"n":50},{"x":0.867,"y":0.977,"n":50},
{"x":0.305,"y":0.992,"n":50},{"x":0.32,"y":0.992,"n":50},{"x":0.336,"y":0.992,"n":50},{"x":0.352,"y":0.992,"n":50},{"x":0.367,"y":0.992,"n":50},{"x":0.383,"y":0.992,"n":85},{"x":0.398,"y":0.992,"n":85},{"x":0.414,"y":0.992,"n":85},{"x":0.43,"y":0.992,"n":85},{"x":0.445,"y":0.992,"n":85},{"x":0.461,"y":0.992,"n":50},{"x":0.477,"y":0.992,"n":50},{"x":0.492,"y":0.992,"n":85},{"x":0.508,"y":0.992,"n":50},{"x":0.523,"y":0.992,"n":85},{"x":0.539,"y":0.992,"n":50},{"x":0.555,"y":0.992,"n":50},{"x":0.57,"y":0.992,"n":50},{"x":0.586,"y":0.992,"n":50},{"x":0.602,"y":0.992,"n":50},{"x":0.617,"y":0.992,"n":50},{"x":0.633,"y":0.992,"n":50},{"x":0.648,"y":0.992,"n":50},{"x":0.664,"y":0.992,"n":50},{"x":0.68,"y":0.992,"n":50},{"x":0.695,"y":0.992,"n":50},{"x":0.711,"y":0.992,"n":50},{"x":0.727,"y":0.992,"n":50},{"x":0.742,"y":0.992,"n":50},{"x":0.758,"y":0.992,"n":50},{"x":0.773,"y":0.992,"n":50},{"x":0.789,"y":0.992,"n":50},{"x":0.805,"y":0.992,"n":50},{"x":0.82,"y":0.992,"n":50},
{"x":0.305,"y":1.008,"n":50},{"x":0.32,"y":1.008,"n":50},{"x":0.336,"y":1.008,"n":50},{"x":0.352,"y":1.008,"n":50},{"x":0.367,"y":1.008,"n":50},{"x":0.383,"y":1.008,"n":85},{"x":0.398,"y":1.008,"n":50},{"x":0.414,"y":1.008,"n":50},{"x":0.43,"y":1.008,"n":85},{"x":0.445,"y":1.008,"n":50},{"x":0.461,"y":1.008,"n":50},{"x":0.477,"y":1.008,"n":85},{"x":0.492,"y":1.008,"n":85},{"x":0.508,"y":1.008,"n":50},{"x":0.523,"y":1.008,"n":50},{"x":0.539,"y":1.008,"n":50},{"x":0.555,"y":1.008,"n":50},{"x":0.57,"y":1.008,"n":50},{"x":0.586,"y":1.008,"n":50},{"x":0.602,"y":1.008,"n":50},{"x":0.633,"y":1.008,"n":50},{"x":0.648,"y":1.008,"n":50},{"x":0.68,"y":1.008,"n":50},{"x":0.695,"y":1.008,"n":50},{"x":0.711,"y":1.008,"n":50},{"x":0.727,"y":1.008,"n":50},{"x":0.742,"y":1.008,"n":50},{"x":0.758,"y":1.008,"n":50},{"x":0.773,"y":1.008,"n":50},{"x":0.789,"y":1.008,"n":50},{"x":0.805,"y":1.008,"n":50},{"x":0.82,"y":1.008,"n":50},{"x":0.836,"y":1.008,"n":50},
{"x":0.32,"y":1.023,"n":50},{"x":0.336,"y":1.023,"n":50},{"x":0.352,"y":1.023,"n":50},{"x":0.367,"y":1.023,"n":50},{"x":0.383,"y":1.023,"n":50},{"x":0.398,"y":1.023,"n":50},{"x":0.414,"y":1.023,"n":85},{"x":0.43,"y":1.023,"n":50},{"x":0.445,"y":1.023,"n":85},{"x":0.461,"y":1.023,"n":50},{"x":0.477,"y":1.023,"n":85},{"x":0.492,"y":1.023,"n":50},{"x":0.508,"y":1.023,"n":50},{"x":0.523,"y":1.023,"n":50},{"x":0.539,"y":1.023,"n":50},{"x":0.555,"y":1.023,"n":50},{"x":0.57,"y":1.023,"n":50},{"x":0.586,"y":1.023,"n":50},{"x":0.602,"y":1.023,"n":50},{"x":0.617,"y":1.023,"n":50},{"x":0.633,"y":1.023,"n":50},{"x":0.648,"y":1.023,"n":50},{"x":0.664,"y":1.023,"n":50},{"x":0.68,"y":1.023,"n":50},{"x":0.695,"y":1.023,"n":50},{"x":0.711,"y":1.023,"n":50},{"x":0.727,"y":1.023,"n":50},{"x":0.742,"y":1.023,"n":50},{"x":0.758,"y":1.023,"n":50},{"x":0.773,"y":1.023,"n":50},{"x":0.789,"y":1.023,"n":50},{"x":0.805,"y":1.023,"n":50},{"x":0.852,"y":1.023,"n":50},
{"x":0.32,"y":1.039,"n":50},{"x":0.336,"y":1.039,"n":50},{"x":0.352,"y":1.039,"n":50},{"x":0.367,"y":1.039,"n":50},{"x":0.383,"y":1.039,"n":50},{"x":0.398,"y":1.039,"n":50},{"x":0.414,"y":1.039,"n":50},{"x":0.43,"y":1.039,"n":50},{"x":0.445,"y":1.039,"n":50},{"x":0.461,"y":1.039,"n":85},{"x":0.477,"y":1.039,"n":50},{"x":0.492,"y":1.039,"n":50},{"x":0.508,"y":1.039,"n":50},{"x":0.523,"y":1.039,"n":50},{"x":0.539,"y":1.039,"n":50},{"x":0.555,"y":1.039,"n":50},{"x":0.57,"y":1.039,"n":50},{"x":0.586,"y":1.039,"n":50},{"x":0.602,"y":1.039,"n":50},{"x":0.68,"y":1.039,"n":50},{"x":0.695,"y":1.039,"n":50},{"x":0.711,"y":1.039,"n":50},{"x":0.742,"y":1.039,"n":50},{"x":0.758,"y":1.039,"n":50},{"x":0.773,"y":1.039,"n":50},{"x":0.789,"y":1.039,"n":50},
{"x":0.352,"y":1.055,"n":50},{"x":0.367,"y":1.055,"n":50},{"x":0.383,"y":1.055,"n":50},{"x":0.398,"y":1.055,"n":85},{"x":0.414,"y":1.055,"n":50},{"x":0.43,"y":1.055,"n":85},{"x":0.445,"y":1.055,"n":50},{"x":0.461,"y":1.055,"n":50},{"x":0.477,"y":1.055,"n":50},{"x":0.492,"y":1.055,"n":50},{"x":0.508,"y":1.055,"n":50},{"x":0.523,"y":1.055,"n":50},{"x":0.539,"y":1.055,"n":50},{"x":0.57,"y":1.055,"n":50},{"x":0.586,"y":1.055,"n":50},{"x":0.68,"y":1.055,"n":50},{"x":0.695,"y":1.055,"n":50},{"x":0.711,"y":1.055,"n":50},{"x":0.727,"y":1.055,"n":50},{"x":0.742,"y":1.055,"n":50},{"x":0.758,"y":1.055,"n":50},{"x":0.773,"y":1.055,"n":50},{"x":0.789,"y":1.055,"n":50},{"x":0.805,"y":1.055,"n":50},
{"x":0.32,"y":1.07,"n":50},{"x":0.352,"y":1.07,"n":50},{"x":0.367,"y":1.07,"n":50},{"x":0.383,"y":1.07,"n":50},{"x":0.398,"y":1.07,"n":50},{"x":0.414,"y":1.07,"n":50},{"x":0.43,"y":1.07,"n":50},{"x":0.445,"y":1.07,"n":50},{"x":0.461,"y":1.07,"n":50},{"x":0.477,"y":1.07,"n":50},{"x":0.492,"y":1.07,"n":50},{"x":0.539,"y":1.07,"n":50},{"x":0.555,"y":1.07,"n":50},{"x":0.57,"y":1.07,"n":50},{"x":0.602,"y":1.07,"n":50},{"x":0.617,"y":1.07,"n":50},{"x":0.633,"y":1.07,"n":50},{"x":0.664,"y":1.07,"n":50},{"x":0.68,"y":1.07,"n":50},{"x":0.695,"y":1.07,"n":50},{"x":0.727,"y":1.07,"n":50},{"x":0.742,"y":1.07,"n":50},{"x":0.773,"y":1.07,"n":50},{"x":0.789,"y":1.07,"n":50},{"x":0.836,"y":1.07,"n":50},
{"x":0.352,"y":1.086,"n":50},{"x":0.367,"y":1.086,"n":50},{"x":0.383,"y":1.086,"n":50},{"x":0.414,"y":1.086,"n":50},{"x":0.43,"y":1.086,"n":50},{"x":0.445,"y":1.086,"n":50},{"x":0.461,"y":1.086,"n":50},{"x":0.477,"y":1.086,"n":50},{"x":0.492,"y":1.086,"n":50},{"x":0.508,"y":1.086,"n":50},{"x":0.523,"y":1.086,"n":50},{"x":0.539,"y":1.086,"n":50},{"x":0.602,"y":1.086,"n":50},{"x":0.68,"y":1.086,"n":50},{"x":0.695,"y":1.086,"n":50},{"x":0.711,"y":1.086,"n":50},{"x":0.727,"y":1.086,"n":50},{"x":0.742,"y":1.086,"n":50},{"x":0.758,"y":1.086,"n":50},{"x":0.773,"y":1.086,"n":50},{"x":0.805,"y":1.086,"n":50},
{"x":0.32,"y":1.102,"n":50},{"x":0.352,"y":1.102,"n":50},{"x":0.367,"y":1.102,"n":50},{"x":0.383,"y":1.102,"n":50},{"x":0.398,"y":1.102,"n":50},{"x":0.414,"y":1.102,"n":50},{"x":0.43,"y":1.102,"n":50},{"x":0.445,"y":1.102,"n":50},{"x":0.461,"y":1.102,"n":50},{"x":0.477,"y":1.102,"n":50},{"x":0.492,"y":1.102,"n":50},{"x":0.508,"y":1.102,"n":50},{"x":0.523,"y":1.102,"n":50},{"x":0.539,"y":1.102,"n":50},{"x":0.57,"y":1.102,"n":50},{"x":0.68,"y":1.102,"n":50},{"x":0.695,"y":1.102,"n":50},{"x":0.711,"y":1.102,"n":50},{"x":0.727,"y":1.102,"n":50},{"x":0.742,"y":1.102,"n":50},{"x":0.758,"y":1.102,"n":50},{"x":0.773,"y":1.102,"n":50},{"x":0.789,"y":1.102,"n":50},
{"x":0.352,"y":1.117,"n":50},{"x":0.398,"y":1.117,"n":50},{"x":0.414,"y":1.117,"n":50},{"x":0.43,"y":1.117,"n":50},{"x":0.445,"y":1.117,"n":50},{"x":0.461,"y":1.117,"n":50},{"x":0.477,"y":1.117,"n":50},{"x":0.492,"y":1.117,"n":50},{"x":0.508,"y":1.117,"n":50},{"x":0.523,"y":1.117,"n":50},{"x":0.539,"y":1.117,"n":50},{"x":0.742,"y":1.117,"n":50},{"x":0.758,"y":1.117,"n":50},
{"x":0.336,"y":1.133,"n":50},{"x":0.398,"y":1.133,"n":50},{"x":0.414,"y":1.133,"n":50},{"x":0.43,"y":1.133,"n":50},{"x":0.445,"y":1.133,"n":50},{"x":0.461,"y":1.133,"n":50},{"x":0.492,"y":1.133,"n":50},{"x":0.68,"y":1.133,"n":50},{"x":0.742,"y":1.133,"n":50},{"x":0.758,"y":1.133,"n":50},{"x":0.773,"y":1.133,"n":50},{"x":0.789,"y":1.133,"n":50},
{"x":0.383,"y":1.148,"n":50},{"x":0.398,"y":1.148,"n":50},{"x":0.445,"y":1.148,"n":50},{"x":0.742,"y":1.148,"n":50},{"x":0.758,"y":1.148,"n":50},{"x":0.773,"y":1.148,"n":50},{"x":0.789,"y":1.148,"n":50},
{"x":0.398,"y":1.164,"n":50},{"x":0.414,"y":1.164,"n":50},{"x":0.461,"y":1.164,"n":50},
{"x":0.398,"y":1.18,"n":50},{"x":0.43,"y":1.18,"n":50},{"x":0.477,"y":1.18,"n":50},{"x":0.727,"y":1.18,"n":50},
{"x":0.43,"y":1.195,"n":50}
]},"mark":{"type":"rect","width":5.8,"height":5.85},"encoding":{"x":{"field":"x","type":"quantitative","scale":{"domain":[0.25,1.5],"nice":false,"zero":false},"axis":{"values":[0.3,0.35,0.4,0.45,0.5,0.55,0.6,0.65,0.7,0.75,0.8,0.85,0.9,0.95,1,1.05,1.1,1.15,1.2,1.25,1.3,1.35,1.4,1.45],"labelExpr":"round(datum.value*100)%20==0?datum.value:''","tickSize":{"condition":{"test":"round(datum.value*100)%20==0","value":-10},"value":-5},"labelPadding":16,"labelOverlap":false,"labelFlush":false,"domainColor":"#222","tickColor":"#222","zindex":1,"title":"M(π⁺π⁰) (GeV/c²)","titleAnchor":"end","titleBaseline":"alphabetic","titleY":41,"titleX":461}},"y":{"field":"y","type":"quantitative","scale":{"domain":[0.25,1.5],"nice":false,"zero":false},"axis":{"values":[0.3,0.35,0.4,0.45,0.5,0.55,0.6,0.65,0.7,0.75,0.8,0.85,0.9,0.95,1,1.05,1.1,1.15,1.2,1.25,1.3,1.35,1.4,1.45],"labelExpr":"round(datum.value*100)%20==0?datum.value:''","tickSize":{"condition":{"test":"round(datum.value*100)%20==0","value":-10},"value":-5},"labelPadding":16,"labelOverlap":false,"labelFlush":false,"domainColor":"#222","tickColor":"#222","zindex":1,"title":"M(π⁻π⁰) (GeV/c²)","titleAnchor":"end","titleBaseline":"alphabetic","titleX":-52,"titleY":0}},"color":{"field":"n","type":"quantitative","legend":null,"scale":{"type":"threshold","domain":[34,68,102,136,171,205,239],"range":["#ffffff","#ffff00","#00ffff","#00ff00","#ff00ff","#ff0000","#0000ff","#000000"]}}}},{"data":{"values":[{"x":0.775,"y":0.775}]},"mark":{"type":"point","filled":false,"stroke":"black","strokeWidth":2,"size":12100,"opacity":1},"encoding":{"x":{"field":"x","type":"quantitative"},"y":{"field":"y","type":"quantitative"}}}]},{"width":19,"height":462,"view":{"stroke":"#222","strokeWidth":1},"data":{"values":[{"lo":0,"hi":34,"n":10},{"lo":34,"hi":68,"n":50},{"lo":68,"hi":102,"n":85},{"lo":102,"hi":136,"n":120},{"lo":136,"hi":171,"n":150},{"lo":171,"hi":205,"n":190},{"lo":205,"hi":239,"n":220},{"lo":239,"hi":273,"n":255}]},"mark":"rect","encoding":{"y":{"field":"lo","type":"quantitative","scale":{"domain":[0,273],"nice":false},"axis":{"orient":"right","values":[0,50,100,150,200,250],"tickSize":-19,"tickColor":"#111","domain":false,"labelPadding":23,"labelFontSize":18,"zindex":1,"title":null}},"y2":{"field":"hi"},"color":{"field":"n","type":"quantitative","legend":null,"scale":{"type":"threshold","domain":[34,68,102,136,171,205,239],"range":["#ffffff","#ffff00","#00ffff","#00ff00","#ff00ff","#ff0000","#0000ff","#000000"]}}}}]}
